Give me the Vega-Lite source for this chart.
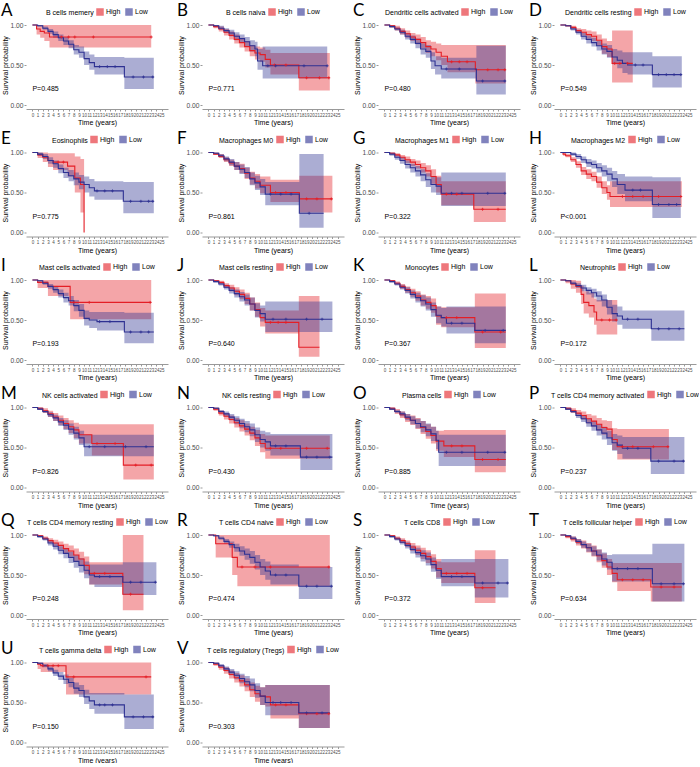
{
"$schema":"https://vega.github.io/schema/vega-lite/v6.json",
"padding":{"left":1,"top":2,"right":0,"bottom":0},
"background":"white",
"datasets":{"km":[
{"p":"A","g":"High","t":0,"s":1,"l":1,"u":1},{"p":"A","g":"High","t":0.8,"s":0.95,"l":0.88,"u":1},{"p":"A","g":"High","t":1.5,"s":0.92,"l":0.84,"u":1},{"p":"A","g":"High","t":2.3,"s":0.9,"l":0.8,"u":1},{"p":"A","g":"High","t":3.3,"s":0.85,"l":0.72,"u":1},{"p":"A","g":"High","t":23,"s":0.85,"l":0.72,"u":1},
{"p":"A","g":"Low","t":0,"s":1,"l":1,"u":1},{"p":"A","g":"Low","t":1,"s":0.99,"l":0.98,"u":1},{"p":"A","g":"Low","t":2,"s":0.96,"l":0.94,"u":0.98},{"p":"A","g":"Low","t":3,"s":0.92,"l":0.89,"u":0.95},{"p":"A","g":"Low","t":4,"s":0.88,"l":0.84,"u":0.92},{"p":"A","g":"Low","t":5,"s":0.84,"l":0.8,"u":0.88},{"p":"A","g":"Low","t":6,"s":0.8,"l":0.75,"u":0.85},{"p":"A","g":"Low","t":7,"s":0.76,"l":0.71,"u":0.81},{"p":"A","g":"Low","t":8,"s":0.69,"l":0.63,"u":0.75},{"p":"A","g":"Low","t":9,"s":0.66,"l":0.59,"u":0.73},{"p":"A","g":"Low","t":10,"s":0.58,"l":0.5,"u":0.67},{"p":"A","g":"Low","t":11,"s":0.53,"l":0.44,"u":0.63},{"p":"A","g":"Low","t":12,"s":0.48,"l":0.38,"u":0.6},{"p":"A","g":"Low","t":17.8,"s":0.35,"l":0.2,"u":0.59},{"p":"A","g":"Low","t":23.5,"s":0.35,"l":0.2,"u":0.59},
{"p":"B","g":"High","t":0,"s":1,"l":1,"u":1},{"p":"B","g":"High","t":1,"s":0.98,"l":0.96,"u":1},{"p":"B","g":"High","t":2,"s":0.95,"l":0.92,"u":0.98},{"p":"B","g":"High","t":3,"s":0.91,"l":0.87,"u":0.95},{"p":"B","g":"High","t":4,"s":0.87,"l":0.82,"u":0.92},{"p":"B","g":"High","t":5,"s":0.82,"l":0.77,"u":0.88},{"p":"B","g":"High","t":6,"s":0.78,"l":0.72,"u":0.84},{"p":"B","g":"High","t":7,"s":0.73,"l":0.67,"u":0.8},{"p":"B","g":"High","t":8,"s":0.68,"l":0.61,"u":0.75},{"p":"B","g":"High","t":9,"s":0.65,"l":0.57,"u":0.73},{"p":"B","g":"High","t":10,"s":0.63,"l":0.54,"u":0.72},{"p":"B","g":"High","t":11,"s":0.57,"l":0.47,"u":0.69},{"p":"B","g":"High","t":12,"s":0.5,"l":0.38,"u":0.65},{"p":"B","g":"High","t":17.5,"s":0.34,"l":0.18,"u":0.65},{"p":"B","g":"High","t":23.5,"s":0.34,"l":0.18,"u":0.65},
{"p":"B","g":"Low","t":0,"s":1,"l":1,"u":1},{"p":"B","g":"Low","t":1,"s":0.99,"l":0.98,"u":1},{"p":"B","g":"Low","t":2,"s":0.96,"l":0.94,"u":0.99},{"p":"B","g":"Low","t":3,"s":0.93,"l":0.9,"u":0.96},{"p":"B","g":"Low","t":4,"s":0.9,"l":0.86,"u":0.94},{"p":"B","g":"Low","t":5,"s":0.86,"l":0.81,"u":0.91},{"p":"B","g":"Low","t":6,"s":0.83,"l":0.78,"u":0.88},{"p":"B","g":"Low","t":7,"s":0.79,"l":0.73,"u":0.85},{"p":"B","g":"Low","t":8,"s":0.74,"l":0.67,"u":0.81},{"p":"B","g":"Low","t":9,"s":0.7,"l":0.61,"u":0.79},{"p":"B","g":"Low","t":9.5,"s":0.55,"l":0.44,"u":0.7},{"p":"B","g":"Low","t":10.5,"s":0.49,"l":0.33,"u":0.73},{"p":"B","g":"Low","t":23,"s":0.49,"l":0.33,"u":0.73},
{"p":"C","g":"High","t":0,"s":1,"l":1,"u":1},{"p":"C","g":"High","t":1,"s":0.99,"l":0.97,"u":1},{"p":"C","g":"High","t":2,"s":0.96,"l":0.93,"u":0.99},{"p":"C","g":"High","t":3,"s":0.92,"l":0.88,"u":0.96},{"p":"C","g":"High","t":4,"s":0.89,"l":0.84,"u":0.93},{"p":"C","g":"High","t":5,"s":0.85,"l":0.8,"u":0.9},{"p":"C","g":"High","t":6,"s":0.82,"l":0.76,"u":0.88},{"p":"C","g":"High","t":7,"s":0.78,"l":0.71,"u":0.85},{"p":"C","g":"High","t":8,"s":0.73,"l":0.65,"u":0.81},{"p":"C","g":"High","t":9,"s":0.7,"l":0.61,"u":0.79},{"p":"C","g":"High","t":10,"s":0.66,"l":0.56,"u":0.77},{"p":"C","g":"High","t":11,"s":0.61,"l":0.5,"u":0.75},{"p":"C","g":"High","t":12.2,"s":0.54,"l":0.41,"u":0.75},{"p":"C","g":"High","t":17.6,"s":0.44,"l":0.27,"u":0.75},{"p":"C","g":"High","t":23.5,"s":0.44,"l":0.27,"u":0.75},
{"p":"C","g":"Low","t":0,"s":1,"l":1,"u":1},{"p":"C","g":"Low","t":1,"s":0.98,"l":0.97,"u":1},{"p":"C","g":"Low","t":2,"s":0.95,"l":0.93,"u":0.97},{"p":"C","g":"Low","t":3,"s":0.91,"l":0.88,"u":0.94},{"p":"C","g":"Low","t":4,"s":0.86,"l":0.82,"u":0.9},{"p":"C","g":"Low","t":5,"s":0.82,"l":0.77,"u":0.87},{"p":"C","g":"Low","t":6,"s":0.77,"l":0.71,"u":0.83},{"p":"C","g":"Low","t":7,"s":0.7,"l":0.63,"u":0.77},{"p":"C","g":"Low","t":8,"s":0.67,"l":0.59,"u":0.75},{"p":"C","g":"Low","t":9,"s":0.55,"l":0.45,"u":0.66},{"p":"C","g":"Low","t":9.8,"s":0.49,"l":0.38,"u":0.61},{"p":"C","g":"Low","t":11,"s":0.45,"l":0.33,"u":0.59},{"p":"C","g":"Low","t":17.8,"s":0.3,"l":0.13,"u":0.74},{"p":"C","g":"Low","t":23.5,"s":0.3,"l":0.13,"u":0.74},
{"p":"D","g":"High","t":0,"s":1,"l":1,"u":1},{"p":"D","g":"High","t":1,"s":0.99,"l":0.98,"u":1},{"p":"D","g":"High","t":2,"s":0.97,"l":0.95,"u":0.99},{"p":"D","g":"High","t":3,"s":0.93,"l":0.9,"u":0.96},{"p":"D","g":"High","t":4,"s":0.91,"l":0.87,"u":0.95},{"p":"D","g":"High","t":5,"s":0.88,"l":0.83,"u":0.93},{"p":"D","g":"High","t":6,"s":0.86,"l":0.8,"u":0.92},{"p":"D","g":"High","t":7,"s":0.81,"l":0.74,"u":0.88},{"p":"D","g":"High","t":8,"s":0.73,"l":0.64,"u":0.83},{"p":"D","g":"High","t":9,"s":0.7,"l":0.6,"u":0.8},{"p":"D","g":"High","t":10,"s":0.52,"l":0.28,"u":0.93},{"p":"D","g":"High","t":14,"s":0.52,"l":0.28,"u":0.93},
{"p":"D","g":"Low","t":0,"s":1,"l":1,"u":1},{"p":"D","g":"Low","t":1,"s":0.99,"l":0.98,"u":1},{"p":"D","g":"Low","t":2,"s":0.95,"l":0.93,"u":0.97},{"p":"D","g":"Low","t":3,"s":0.91,"l":0.88,"u":0.94},{"p":"D","g":"Low","t":4,"s":0.86,"l":0.82,"u":0.9},{"p":"D","g":"Low","t":5,"s":0.82,"l":0.77,"u":0.87},{"p":"D","g":"Low","t":6,"s":0.78,"l":0.73,"u":0.84},{"p":"D","g":"Low","t":7,"s":0.74,"l":0.68,"u":0.8},{"p":"D","g":"Low","t":8,"s":0.7,"l":0.63,"u":0.77},{"p":"D","g":"Low","t":9,"s":0.67,"l":0.59,"u":0.75},{"p":"D","g":"Low","t":10,"s":0.6,"l":0.51,"u":0.7},{"p":"D","g":"Low","t":11,"s":0.56,"l":0.46,"u":0.68},{"p":"D","g":"Low","t":12,"s":0.52,"l":0.4,"u":0.66},{"p":"D","g":"Low","t":13,"s":0.5,"l":0.38,"u":0.66},{"p":"D","g":"Low","t":17.8,"s":0.38,"l":0.22,"u":0.61},{"p":"D","g":"Low","t":23.5,"s":0.38,"l":0.22,"u":0.61},
{"p":"E","g":"High","t":0,"s":1,"l":1,"u":1},{"p":"E","g":"High","t":1,"s":0.97,"l":0.93,"u":1},{"p":"E","g":"High","t":2,"s":0.94,"l":0.88,"u":1},{"p":"E","g":"High","t":3,"s":0.9,"l":0.82,"u":0.99},{"p":"E","g":"High","t":4,"s":0.88,"l":0.78,"u":0.99},{"p":"E","g":"High","t":6.8,"s":0.83,"l":0.7,"u":0.99},{"p":"E","g":"High","t":8.2,"s":0.68,"l":0.5,"u":0.95},{"p":"E","g":"High","t":9.3,"s":0.6,"l":0.25,"u":0.92},{"p":"E","g":"High","t":10,"s":0,"l":0,"u":0},
{"p":"E","g":"Low","t":0,"s":1,"l":1,"u":1},{"p":"E","g":"Low","t":1,"s":0.98,"l":0.96,"u":1},{"p":"E","g":"Low","t":2,"s":0.95,"l":0.92,"u":0.98},{"p":"E","g":"Low","t":3,"s":0.9,"l":0.86,"u":0.94},{"p":"E","g":"Low","t":4,"s":0.86,"l":0.81,"u":0.9},{"p":"E","g":"Low","t":5,"s":0.8,"l":0.74,"u":0.85},{"p":"E","g":"Low","t":6,"s":0.75,"l":0.68,"u":0.81},{"p":"E","g":"Low","t":7,"s":0.71,"l":0.64,"u":0.78},{"p":"E","g":"Low","t":8,"s":0.67,"l":0.59,"u":0.75},{"p":"E","g":"Low","t":9,"s":0.63,"l":0.54,"u":0.72},{"p":"E","g":"Low","t":10,"s":0.6,"l":0.5,"u":0.7},{"p":"E","g":"Low","t":11,"s":0.56,"l":0.45,"u":0.67},{"p":"E","g":"Low","t":12,"s":0.52,"l":0.41,"u":0.64},{"p":"E","g":"Low","t":17.6,"s":0.39,"l":0.24,"u":0.63},{"p":"E","g":"Low","t":23.5,"s":0.39,"l":0.24,"u":0.63},
{"p":"F","g":"High","t":0,"s":1,"l":1,"u":1},{"p":"F","g":"High","t":1,"s":0.98,"l":0.97,"u":1},{"p":"F","g":"High","t":2,"s":0.95,"l":0.93,"u":0.98},{"p":"F","g":"High","t":3,"s":0.91,"l":0.88,"u":0.94},{"p":"F","g":"High","t":4,"s":0.87,"l":0.83,"u":0.91},{"p":"F","g":"High","t":5,"s":0.83,"l":0.78,"u":0.88},{"p":"F","g":"High","t":6,"s":0.8,"l":0.74,"u":0.86},{"p":"F","g":"High","t":7,"s":0.74,"l":0.67,"u":0.81},{"p":"F","g":"High","t":8,"s":0.68,"l":0.6,"u":0.76},{"p":"F","g":"High","t":9,"s":0.64,"l":0.55,"u":0.73},{"p":"F","g":"High","t":10,"s":0.59,"l":0.49,"u":0.7},{"p":"F","g":"High","t":12,"s":0.5,"l":0.38,"u":0.66},{"p":"F","g":"High","t":17.6,"s":0.42,"l":0.25,"u":0.71},{"p":"F","g":"High","t":24,"s":0.42,"l":0.25,"u":0.71},
{"p":"F","g":"Low","t":0,"s":1,"l":1,"u":1},{"p":"F","g":"Low","t":1,"s":0.99,"l":0.98,"u":1},{"p":"F","g":"Low","t":2,"s":0.96,"l":0.94,"u":0.98},{"p":"F","g":"Low","t":3,"s":0.92,"l":0.89,"u":0.95},{"p":"F","g":"Low","t":4,"s":0.88,"l":0.84,"u":0.92},{"p":"F","g":"Low","t":5,"s":0.83,"l":0.78,"u":0.88},{"p":"F","g":"Low","t":6,"s":0.79,"l":0.73,"u":0.85},{"p":"F","g":"Low","t":7,"s":0.75,"l":0.68,"u":0.82},{"p":"F","g":"Low","t":8,"s":0.67,"l":0.59,"u":0.75},{"p":"F","g":"Low","t":9,"s":0.62,"l":0.53,"u":0.71},{"p":"F","g":"Low","t":10,"s":0.57,"l":0.47,"u":0.67},{"p":"F","g":"Low","t":11,"s":0.48,"l":0.34,"u":0.63},{"p":"F","g":"Low","t":17.6,"s":0.24,"l":0.06,"u":0.98},{"p":"F","g":"Low","t":22.3,"s":0.24,"l":0.06,"u":0.98},
{"p":"G","g":"High","t":0,"s":1,"l":1,"u":1},{"p":"G","g":"High","t":1,"s":0.99,"l":0.98,"u":1},{"p":"G","g":"High","t":2,"s":0.97,"l":0.95,"u":0.99},{"p":"G","g":"High","t":3,"s":0.94,"l":0.91,"u":0.97},{"p":"G","g":"High","t":4,"s":0.91,"l":0.87,"u":0.95},{"p":"G","g":"High","t":5,"s":0.88,"l":0.83,"u":0.92},{"p":"G","g":"High","t":6,"s":0.85,"l":0.8,"u":0.9},{"p":"G","g":"High","t":7,"s":0.81,"l":0.75,"u":0.87},{"p":"G","g":"High","t":8,"s":0.77,"l":0.7,"u":0.84},{"p":"G","g":"High","t":9,"s":0.7,"l":0.61,"u":0.79},{"p":"G","g":"High","t":10,"s":0.6,"l":0.5,"u":0.71},{"p":"G","g":"High","t":11,"s":0.48,"l":0.34,"u":0.64},{"p":"G","g":"High","t":17.3,"s":0.29,"l":0.13,"u":0.64},{"p":"G","g":"High","t":23.5,"s":0.29,"l":0.13,"u":0.64},
{"p":"G","g":"Low","t":0,"s":1,"l":1,"u":1},{"p":"G","g":"Low","t":1,"s":0.98,"l":0.96,"u":1},{"p":"G","g":"Low","t":2,"s":0.94,"l":0.91,"u":0.97},{"p":"G","g":"Low","t":3,"s":0.9,"l":0.86,"u":0.94},{"p":"G","g":"Low","t":4,"s":0.85,"l":0.8,"u":0.9},{"p":"G","g":"Low","t":5,"s":0.81,"l":0.75,"u":0.86},{"p":"G","g":"Low","t":6,"s":0.77,"l":0.7,"u":0.83},{"p":"G","g":"Low","t":7,"s":0.72,"l":0.64,"u":0.79},{"p":"G","g":"Low","t":8,"s":0.66,"l":0.57,"u":0.74},{"p":"G","g":"Low","t":9,"s":0.6,"l":0.5,"u":0.7},{"p":"G","g":"Low","t":10,"s":0.58,"l":0.47,"u":0.69},{"p":"G","g":"Low","t":11,"s":0.49,"l":0.33,"u":0.75},{"p":"G","g":"Low","t":23.5,"s":0.49,"l":0.33,"u":0.75},
{"p":"H","g":"High","t":0,"s":1,"l":1,"u":1},{"p":"H","g":"High","t":0.5,"s":0.98,"l":0.96,"u":1},{"p":"H","g":"High","t":1,"s":0.96,"l":0.94,"u":0.98},{"p":"H","g":"High","t":2,"s":0.91,"l":0.88,"u":0.94},{"p":"H","g":"High","t":3,"s":0.85,"l":0.81,"u":0.89},{"p":"H","g":"High","t":4,"s":0.77,"l":0.72,"u":0.82},{"p":"H","g":"High","t":5,"s":0.73,"l":0.67,"u":0.79},{"p":"H","g":"High","t":6,"s":0.7,"l":0.64,"u":0.76},{"p":"H","g":"High","t":7,"s":0.63,"l":0.56,"u":0.7},{"p":"H","g":"High","t":8,"s":0.56,"l":0.48,"u":0.64},{"p":"H","g":"High","t":9,"s":0.5,"l":0.41,"u":0.59},{"p":"H","g":"High","t":9.6,"s":0.45,"l":0.32,"u":0.64},{"p":"H","g":"High","t":23.5,"s":0.45,"l":0.32,"u":0.64},
{"p":"H","g":"Low","t":0,"s":1,"l":1,"u":1},{"p":"H","g":"Low","t":1,"s":1,"l":0.99,"u":1},{"p":"H","g":"Low","t":2,"s":0.98,"l":0.96,"u":1},{"p":"H","g":"Low","t":3,"s":0.95,"l":0.92,"u":0.98},{"p":"H","g":"Low","t":4,"s":0.91,"l":0.87,"u":0.95},{"p":"H","g":"Low","t":5,"s":0.87,"l":0.82,"u":0.92},{"p":"H","g":"Low","t":6,"s":0.85,"l":0.8,"u":0.9},{"p":"H","g":"Low","t":7,"s":0.81,"l":0.75,"u":0.87},{"p":"H","g":"Low","t":8,"s":0.77,"l":0.7,"u":0.84},{"p":"H","g":"Low","t":9,"s":0.73,"l":0.64,"u":0.81},{"p":"H","g":"Low","t":10,"s":0.67,"l":0.57,"u":0.77},{"p":"H","g":"Low","t":11,"s":0.6,"l":0.48,"u":0.73},{"p":"H","g":"Low","t":12.5,"s":0.53,"l":0.39,"u":0.7},{"p":"H","g":"Low","t":17.8,"s":0.35,"l":0.18,"u":0.69},{"p":"H","g":"Low","t":23.3,"s":0.35,"l":0.18,"u":0.69},
{"p":"I","g":"High","t":0,"s":1,"l":1,"u":1},{"p":"I","g":"High","t":1,"s":0.97,"l":0.9,"u":1},{"p":"I","g":"High","t":3,"s":0.92,"l":0.8,"u":1},{"p":"I","g":"High","t":7.3,"s":0.72,"l":0.51,"u":1},{"p":"I","g":"High","t":23,"s":0.72,"l":0.51,"u":1},
{"p":"I","g":"Low","t":0,"s":1,"l":1,"u":1},{"p":"I","g":"Low","t":1,"s":0.99,"l":0.98,"u":1},{"p":"I","g":"Low","t":2,"s":0.96,"l":0.94,"u":0.98},{"p":"I","g":"Low","t":3,"s":0.92,"l":0.89,"u":0.95},{"p":"I","g":"Low","t":4,"s":0.88,"l":0.84,"u":0.92},{"p":"I","g":"Low","t":5,"s":0.83,"l":0.78,"u":0.88},{"p":"I","g":"Low","t":6,"s":0.78,"l":0.72,"u":0.84},{"p":"I","g":"Low","t":7,"s":0.74,"l":0.68,"u":0.8},{"p":"I","g":"Low","t":8,"s":0.68,"l":0.61,"u":0.75},{"p":"I","g":"Low","t":9,"s":0.62,"l":0.54,"u":0.7},{"p":"I","g":"Low","t":10,"s":0.52,"l":0.43,"u":0.62},{"p":"I","g":"Low","t":11,"s":0.5,"l":0.4,"u":0.6},{"p":"I","g":"Low","t":12.5,"s":0.48,"l":0.37,"u":0.6},{"p":"I","g":"Low","t":17.8,"s":0.35,"l":0.21,"u":0.59},{"p":"I","g":"Low","t":23.5,"s":0.35,"l":0.21,"u":0.59},
{"p":"J","g":"High","t":0,"s":1,"l":1,"u":1},{"p":"J","g":"High","t":1,"s":0.99,"l":0.98,"u":1},{"p":"J","g":"High","t":2,"s":0.97,"l":0.95,"u":0.99},{"p":"J","g":"High","t":3,"s":0.93,"l":0.9,"u":0.96},{"p":"J","g":"High","t":4,"s":0.9,"l":0.86,"u":0.94},{"p":"J","g":"High","t":5,"s":0.86,"l":0.81,"u":0.91},{"p":"J","g":"High","t":6,"s":0.82,"l":0.76,"u":0.88},{"p":"J","g":"High","t":7,"s":0.77,"l":0.7,"u":0.84},{"p":"J","g":"High","t":8,"s":0.7,"l":0.62,"u":0.78},{"p":"J","g":"High","t":9,"s":0.63,"l":0.54,"u":0.72},{"p":"J","g":"High","t":10,"s":0.53,"l":0.42,"u":0.65},{"p":"J","g":"High","t":11,"s":0.47,"l":0.33,"u":0.62},{"p":"J","g":"High","t":17.5,"s":0.16,"l":0.04,"u":0.8},{"p":"J","g":"High","t":21.5,"s":0.16,"l":0.04,"u":0.8},
{"p":"J","g":"Low","t":0,"s":1,"l":1,"u":1},{"p":"J","g":"Low","t":1,"s":0.98,"l":0.97,"u":1},{"p":"J","g":"Low","t":2,"s":0.95,"l":0.93,"u":0.97},{"p":"J","g":"Low","t":3,"s":0.91,"l":0.88,"u":0.94},{"p":"J","g":"Low","t":4,"s":0.87,"l":0.83,"u":0.91},{"p":"J","g":"Low","t":5,"s":0.83,"l":0.78,"u":0.88},{"p":"J","g":"Low","t":6,"s":0.79,"l":0.73,"u":0.85},{"p":"J","g":"Low","t":7,"s":0.75,"l":0.68,"u":0.82},{"p":"J","g":"Low","t":8,"s":0.7,"l":0.62,"u":0.78},{"p":"J","g":"Low","t":9,"s":0.62,"l":0.53,"u":0.71},{"p":"J","g":"Low","t":10,"s":0.58,"l":0.48,"u":0.68},{"p":"J","g":"Low","t":11,"s":0.51,"l":0.35,"u":0.73},{"p":"J","g":"Low","t":24,"s":0.51,"l":0.35,"u":0.73},
{"p":"K","g":"High","t":0,"s":1,"l":1,"u":1},{"p":"K","g":"High","t":1,"s":0.99,"l":0.98,"u":1},{"p":"K","g":"High","t":2,"s":0.96,"l":0.94,"u":0.98},{"p":"K","g":"High","t":3,"s":0.92,"l":0.89,"u":0.95},{"p":"K","g":"High","t":4,"s":0.88,"l":0.84,"u":0.92},{"p":"K","g":"High","t":5,"s":0.84,"l":0.79,"u":0.89},{"p":"K","g":"High","t":6,"s":0.8,"l":0.74,"u":0.86},{"p":"K","g":"High","t":7,"s":0.75,"l":0.68,"u":0.82},{"p":"K","g":"High","t":8,"s":0.72,"l":0.64,"u":0.8},{"p":"K","g":"High","t":9,"s":0.68,"l":0.59,"u":0.77},{"p":"K","g":"High","t":10,"s":0.55,"l":0.44,"u":0.67},{"p":"K","g":"High","t":11,"s":0.53,"l":0.41,"u":0.66},{"p":"K","g":"High","t":17.5,"s":0.35,"l":0.15,"u":0.83},{"p":"K","g":"High","t":23.5,"s":0.35,"l":0.15,"u":0.83},
{"p":"K","g":"Low","t":0,"s":1,"l":1,"u":1},{"p":"K","g":"Low","t":1,"s":0.98,"l":0.97,"u":1},{"p":"K","g":"Low","t":2,"s":0.95,"l":0.93,"u":0.97},{"p":"K","g":"Low","t":3,"s":0.91,"l":0.88,"u":0.94},{"p":"K","g":"Low","t":4,"s":0.87,"l":0.83,"u":0.91},{"p":"K","g":"Low","t":5,"s":0.82,"l":0.77,"u":0.87},{"p":"K","g":"Low","t":6,"s":0.78,"l":0.72,"u":0.84},{"p":"K","g":"Low","t":7,"s":0.74,"l":0.67,"u":0.81},{"p":"K","g":"Low","t":8,"s":0.7,"l":0.62,"u":0.78},{"p":"K","g":"Low","t":9,"s":0.63,"l":0.54,"u":0.72},{"p":"K","g":"Low","t":10,"s":0.56,"l":0.46,"u":0.67},{"p":"K","g":"Low","t":11,"s":0.53,"l":0.42,"u":0.65},{"p":"K","g":"Low","t":12,"s":0.46,"l":0.33,"u":0.67},{"p":"K","g":"Low","t":17.5,"s":0.37,"l":0.21,"u":0.67},{"p":"K","g":"Low","t":23.5,"s":0.37,"l":0.21,"u":0.67},
{"p":"L","g":"High","t":0,"s":1,"l":1,"u":1},{"p":"L","g":"High","t":1,"s":0.99,"l":0.96,"u":1},{"p":"L","g":"High","t":2,"s":0.95,"l":0.89,"u":1},{"p":"L","g":"High","t":3,"s":0.92,"l":0.84,"u":0.99},{"p":"L","g":"High","t":4,"s":0.82,"l":0.7,"u":0.93},{"p":"L","g":"High","t":4.5,"s":0.72,"l":0.58,"u":0.86},{"p":"L","g":"High","t":5.5,"s":0.68,"l":0.53,"u":0.84},{"p":"L","g":"High","t":6.5,"s":0.6,"l":0.44,"u":0.77},{"p":"L","g":"High","t":7,"s":0.5,"l":0.32,"u":0.75},{"p":"L","g":"High","t":11,"s":0.5,"l":0.32,"u":0.75},
{"p":"L","g":"Low","t":0,"s":1,"l":1,"u":1},{"p":"L","g":"Low","t":1,"s":0.99,"l":0.98,"u":1},{"p":"L","g":"Low","t":2,"s":0.96,"l":0.94,"u":0.98},{"p":"L","g":"Low","t":3,"s":0.93,"l":0.9,"u":0.96},{"p":"L","g":"Low","t":4,"s":0.9,"l":0.86,"u":0.94},{"p":"L","g":"Low","t":5,"s":0.87,"l":0.82,"u":0.91},{"p":"L","g":"Low","t":6,"s":0.84,"l":0.78,"u":0.89},{"p":"L","g":"Low","t":7,"s":0.8,"l":0.73,"u":0.86},{"p":"L","g":"Low","t":8,"s":0.75,"l":0.67,"u":0.82},{"p":"L","g":"Low","t":9,"s":0.66,"l":0.57,"u":0.75},{"p":"L","g":"Low","t":10,"s":0.58,"l":0.48,"u":0.69},{"p":"L","g":"Low","t":11,"s":0.55,"l":0.44,"u":0.67},{"p":"L","g":"Low","t":12,"s":0.51,"l":0.39,"u":0.62},{"p":"L","g":"Low","t":17.6,"s":0.39,"l":0.24,"u":0.62},{"p":"L","g":"Low","t":24,"s":0.39,"l":0.24,"u":0.62},
{"p":"M","g":"High","t":0,"s":1,"l":1,"u":1},{"p":"M","g":"High","t":1,"s":0.99,"l":0.97,"u":1},{"p":"M","g":"High","t":2,"s":0.96,"l":0.93,"u":0.99},{"p":"M","g":"High","t":3,"s":0.92,"l":0.88,"u":0.96},{"p":"M","g":"High","t":4,"s":0.88,"l":0.83,"u":0.93},{"p":"M","g":"High","t":5,"s":0.84,"l":0.78,"u":0.9},{"p":"M","g":"High","t":6,"s":0.8,"l":0.73,"u":0.87},{"p":"M","g":"High","t":7,"s":0.76,"l":0.68,"u":0.84},{"p":"M","g":"High","t":8,"s":0.72,"l":0.62,"u":0.81},{"p":"M","g":"High","t":9,"s":0.66,"l":0.55,"u":0.79},{"p":"M","g":"High","t":11.5,"s":0.55,"l":0.4,"u":0.79},{"p":"M","g":"High","t":17.6,"s":0.28,"l":0.1,"u":0.79},{"p":"M","g":"High","t":23.5,"s":0.28,"l":0.1,"u":0.79},
{"p":"M","g":"Low","t":0,"s":1,"l":1,"u":1},{"p":"M","g":"Low","t":1,"s":0.98,"l":0.97,"u":1},{"p":"M","g":"Low","t":2,"s":0.95,"l":0.93,"u":0.97},{"p":"M","g":"Low","t":3,"s":0.91,"l":0.88,"u":0.94},{"p":"M","g":"Low","t":4,"s":0.87,"l":0.83,"u":0.91},{"p":"M","g":"Low","t":5,"s":0.82,"l":0.77,"u":0.87},{"p":"M","g":"Low","t":6,"s":0.78,"l":0.72,"u":0.84},{"p":"M","g":"Low","t":7,"s":0.73,"l":0.66,"u":0.8},{"p":"M","g":"Low","t":8,"s":0.68,"l":0.6,"u":0.76},{"p":"M","g":"Low","t":9,"s":0.62,"l":0.53,"u":0.71},{"p":"M","g":"Low","t":10,"s":0.51,"l":0.39,"u":0.66},{"p":"M","g":"Low","t":23.5,"s":0.51,"l":0.39,"u":0.66},
{"p":"N","g":"High","t":0,"s":1,"l":1,"u":1},{"p":"N","g":"High","t":1,"s":0.98,"l":0.96,"u":1},{"p":"N","g":"High","t":2,"s":0.93,"l":0.9,"u":0.96},{"p":"N","g":"High","t":3,"s":0.89,"l":0.85,"u":0.93},{"p":"N","g":"High","t":4,"s":0.85,"l":0.8,"u":0.9},{"p":"N","g":"High","t":5,"s":0.81,"l":0.75,"u":0.87},{"p":"N","g":"High","t":6,"s":0.77,"l":0.7,"u":0.84},{"p":"N","g":"High","t":7,"s":0.73,"l":0.65,"u":0.8},{"p":"N","g":"High","t":8,"s":0.68,"l":0.59,"u":0.76},{"p":"N","g":"High","t":9,"s":0.62,"l":0.52,"u":0.72},{"p":"N","g":"High","t":10,"s":0.55,"l":0.44,"u":0.67},{"p":"N","g":"High","t":11,"s":0.49,"l":0.36,"u":0.65},{"p":"N","g":"High","t":23.5,"s":0.49,"l":0.36,"u":0.65},
{"p":"N","g":"Low","t":0,"s":1,"l":1,"u":1},{"p":"N","g":"Low","t":1,"s":0.99,"l":0.98,"u":1},{"p":"N","g":"Low","t":2,"s":0.95,"l":0.93,"u":0.97},{"p":"N","g":"Low","t":3,"s":0.92,"l":0.89,"u":0.95},{"p":"N","g":"Low","t":4,"s":0.88,"l":0.84,"u":0.92},{"p":"N","g":"Low","t":5,"s":0.84,"l":0.79,"u":0.89},{"p":"N","g":"Low","t":6,"s":0.8,"l":0.74,"u":0.86},{"p":"N","g":"Low","t":7,"s":0.76,"l":0.69,"u":0.83},{"p":"N","g":"Low","t":8,"s":0.72,"l":0.64,"u":0.8},{"p":"N","g":"Low","t":9,"s":0.66,"l":0.57,"u":0.75},{"p":"N","g":"Low","t":10,"s":0.6,"l":0.5,"u":0.71},{"p":"N","g":"Low","t":11,"s":0.57,"l":0.46,"u":0.69},{"p":"N","g":"Low","t":12,"s":0.52,"l":0.4,"u":0.67},{"p":"N","g":"Low","t":17.8,"s":0.38,"l":0.22,"u":0.67},{"p":"N","g":"Low","t":24,"s":0.38,"l":0.22,"u":0.67},
{"p":"O","g":"High","t":0,"s":1,"l":1,"u":1},{"p":"O","g":"High","t":1,"s":0.99,"l":0.97,"u":1},{"p":"O","g":"High","t":2,"s":0.95,"l":0.92,"u":0.98},{"p":"O","g":"High","t":3,"s":0.91,"l":0.87,"u":0.95},{"p":"O","g":"High","t":4,"s":0.87,"l":0.82,"u":0.92},{"p":"O","g":"High","t":5,"s":0.84,"l":0.78,"u":0.9},{"p":"O","g":"High","t":6,"s":0.8,"l":0.73,"u":0.87},{"p":"O","g":"High","t":7,"s":0.75,"l":0.67,"u":0.83},{"p":"O","g":"High","t":8,"s":0.7,"l":0.61,"u":0.79},{"p":"O","g":"High","t":9,"s":0.65,"l":0.55,"u":0.76},{"p":"O","g":"High","t":10,"s":0.58,"l":0.46,"u":0.71},{"p":"O","g":"High","t":11.5,"s":0.52,"l":0.38,"u":0.72},{"p":"O","g":"High","t":17.5,"s":0.35,"l":0.19,"u":0.72},{"p":"O","g":"High","t":23.5,"s":0.35,"l":0.19,"u":0.72},
{"p":"O","g":"Low","t":0,"s":1,"l":1,"u":1},{"p":"O","g":"Low","t":1,"s":0.98,"l":0.97,"u":1},{"p":"O","g":"Low","t":2,"s":0.95,"l":0.93,"u":0.97},{"p":"O","g":"Low","t":3,"s":0.92,"l":0.89,"u":0.95},{"p":"O","g":"Low","t":4,"s":0.88,"l":0.84,"u":0.92},{"p":"O","g":"Low","t":5,"s":0.84,"l":0.79,"u":0.89},{"p":"O","g":"Low","t":6,"s":0.8,"l":0.74,"u":0.86},{"p":"O","g":"Low","t":7,"s":0.76,"l":0.69,"u":0.83},{"p":"O","g":"Low","t":8,"s":0.72,"l":0.64,"u":0.8},{"p":"O","g":"Low","t":9,"s":0.67,"l":0.58,"u":0.76},{"p":"O","g":"Low","t":10,"s":0.59,"l":0.48,"u":0.71},{"p":"O","g":"Low","t":10.5,"s":0.44,"l":0.27,"u":0.66},{"p":"O","g":"Low","t":23.5,"s":0.44,"l":0.27,"u":0.66},
{"p":"P","g":"High","t":0,"s":1,"l":1,"u":1},{"p":"P","g":"High","t":1,"s":0.99,"l":0.97,"u":1},{"p":"P","g":"High","t":2,"s":0.96,"l":0.93,"u":0.99},{"p":"P","g":"High","t":3,"s":0.93,"l":0.89,"u":0.97},{"p":"P","g":"High","t":4,"s":0.9,"l":0.85,"u":0.95},{"p":"P","g":"High","t":5,"s":0.86,"l":0.8,"u":0.92},{"p":"P","g":"High","t":6,"s":0.83,"l":0.76,"u":0.9},{"p":"P","g":"High","t":7,"s":0.79,"l":0.71,"u":0.87},{"p":"P","g":"High","t":8,"s":0.75,"l":0.66,"u":0.84},{"p":"P","g":"High","t":9,"s":0.73,"l":0.63,"u":0.83},{"p":"P","g":"High","t":10,"s":0.6,"l":0.47,"u":0.74},{"p":"P","g":"High","t":11,"s":0.51,"l":0.35,"u":0.73},{"p":"P","g":"High","t":21,"s":0.51,"l":0.35,"u":0.73},
{"p":"P","g":"Low","t":0,"s":1,"l":1,"u":1},{"p":"P","g":"Low","t":1,"s":0.98,"l":0.97,"u":1},{"p":"P","g":"Low","t":2,"s":0.95,"l":0.93,"u":0.97},{"p":"P","g":"Low","t":3,"s":0.9,"l":0.87,"u":0.93},{"p":"P","g":"Low","t":4,"s":0.86,"l":0.82,"u":0.9},{"p":"P","g":"Low","t":5,"s":0.81,"l":0.76,"u":0.86},{"p":"P","g":"Low","t":6,"s":0.77,"l":0.71,"u":0.83},{"p":"P","g":"Low","t":7,"s":0.72,"l":0.65,"u":0.79},{"p":"P","g":"Low","t":8,"s":0.68,"l":0.6,"u":0.76},{"p":"P","g":"Low","t":9,"s":0.62,"l":0.53,"u":0.71},{"p":"P","g":"Low","t":10,"s":0.56,"l":0.46,"u":0.67},{"p":"P","g":"Low","t":11,"s":0.53,"l":0.42,"u":0.65},{"p":"P","g":"Low","t":12,"s":0.49,"l":0.36,"u":0.63},{"p":"P","g":"Low","t":17.5,"s":0.33,"l":0.17,"u":0.63},{"p":"P","g":"Low","t":24,"s":0.33,"l":0.17,"u":0.63},
{"p":"Q","g":"High","t":0,"s":1,"l":1,"u":1},{"p":"Q","g":"High","t":1,"s":0.99,"l":0.98,"u":1},{"p":"Q","g":"High","t":2,"s":0.96,"l":0.94,"u":0.98},{"p":"Q","g":"High","t":3,"s":0.93,"l":0.9,"u":0.96},{"p":"Q","g":"High","t":4,"s":0.9,"l":0.86,"u":0.94},{"p":"Q","g":"High","t":5,"s":0.87,"l":0.82,"u":0.92},{"p":"Q","g":"High","t":6,"s":0.83,"l":0.77,"u":0.89},{"p":"Q","g":"High","t":7,"s":0.8,"l":0.73,"u":0.87},{"p":"Q","g":"High","t":8,"s":0.75,"l":0.67,"u":0.83},{"p":"Q","g":"High","t":9,"s":0.7,"l":0.61,"u":0.79},{"p":"Q","g":"High","t":10,"s":0.62,"l":0.51,"u":0.73},{"p":"Q","g":"High","t":11,"s":0.52,"l":0.38,"u":0.66},{"p":"Q","g":"High","t":17.5,"s":0.26,"l":0.06,"u":1},{"p":"Q","g":"High","t":21.5,"s":0.26,"l":0.06,"u":1},
{"p":"Q","g":"Low","t":0,"s":1,"l":1,"u":1},{"p":"Q","g":"Low","t":1,"s":0.98,"l":0.97,"u":1},{"p":"Q","g":"Low","t":2,"s":0.95,"l":0.93,"u":0.97},{"p":"Q","g":"Low","t":3,"s":0.9,"l":0.87,"u":0.93},{"p":"Q","g":"Low","t":4,"s":0.86,"l":0.82,"u":0.9},{"p":"Q","g":"Low","t":5,"s":0.81,"l":0.76,"u":0.86},{"p":"Q","g":"Low","t":6,"s":0.77,"l":0.71,"u":0.83},{"p":"Q","g":"Low","t":7,"s":0.72,"l":0.65,"u":0.79},{"p":"Q","g":"Low","t":8,"s":0.67,"l":0.59,"u":0.75},{"p":"Q","g":"Low","t":9,"s":0.62,"l":0.53,"u":0.71},{"p":"Q","g":"Low","t":10,"s":0.56,"l":0.46,"u":0.67},{"p":"Q","g":"Low","t":11,"s":0.5,"l":0.38,"u":0.63},{"p":"Q","g":"Low","t":12,"s":0.48,"l":0.35,"u":0.63},{"p":"Q","g":"Low","t":17.5,"s":0.41,"l":0.25,"u":0.66},{"p":"Q","g":"Low","t":24,"s":0.41,"l":0.25,"u":0.66},
{"p":"R","g":"High","t":0,"s":1,"l":1,"u":1},{"p":"R","g":"High","t":1.4,"s":0.89,"l":0.72,"u":1},{"p":"R","g":"High","t":4.6,"s":0.72,"l":0.5,"u":1},{"p":"R","g":"High","t":5.6,"s":0.6,"l":0.36,"u":1},{"p":"R","g":"High","t":23.5,"s":0.6,"l":0.36,"u":1},
{"p":"R","g":"Low","t":0,"s":1,"l":1,"u":1},{"p":"R","g":"Low","t":1,"s":0.99,"l":0.98,"u":1},{"p":"R","g":"Low","t":2,"s":0.96,"l":0.94,"u":0.98},{"p":"R","g":"Low","t":3,"s":0.92,"l":0.89,"u":0.95},{"p":"R","g":"Low","t":4,"s":0.88,"l":0.84,"u":0.92},{"p":"R","g":"Low","t":5,"s":0.84,"l":0.79,"u":0.89},{"p":"R","g":"Low","t":6,"s":0.8,"l":0.74,"u":0.86},{"p":"R","g":"Low","t":7,"s":0.76,"l":0.69,"u":0.83},{"p":"R","g":"Low","t":8,"s":0.72,"l":0.64,"u":0.8},{"p":"R","g":"Low","t":9,"s":0.66,"l":0.57,"u":0.75},{"p":"R","g":"Low","t":10,"s":0.6,"l":0.5,"u":0.7},{"p":"R","g":"Low","t":11,"s":0.55,"l":0.44,"u":0.67},{"p":"R","g":"Low","t":12,"s":0.5,"l":0.38,"u":0.63},{"p":"R","g":"Low","t":17.5,"s":0.36,"l":0.2,"u":0.6},{"p":"R","g":"Low","t":24,"s":0.36,"l":0.2,"u":0.6},
{"p":"S","g":"High","t":0,"s":1,"l":1,"u":1},{"p":"S","g":"High","t":1,"s":0.99,"l":0.98,"u":1},{"p":"S","g":"High","t":2,"s":0.96,"l":0.94,"u":0.98},{"p":"S","g":"High","t":3,"s":0.93,"l":0.9,"u":0.96},{"p":"S","g":"High","t":4,"s":0.89,"l":0.85,"u":0.93},{"p":"S","g":"High","t":5,"s":0.85,"l":0.8,"u":0.9},{"p":"S","g":"High","t":6,"s":0.81,"l":0.75,"u":0.87},{"p":"S","g":"High","t":7,"s":0.77,"l":0.7,"u":0.84},{"p":"S","g":"High","t":8,"s":0.73,"l":0.65,"u":0.81},{"p":"S","g":"High","t":9,"s":0.67,"l":0.58,"u":0.76},{"p":"S","g":"High","t":10,"s":0.58,"l":0.47,"u":0.7},{"p":"S","g":"High","t":11,"s":0.52,"l":0.4,"u":0.66},{"p":"S","g":"High","t":17.5,"s":0.34,"l":0.15,"u":0.81},{"p":"S","g":"High","t":21.5,"s":0.34,"l":0.15,"u":0.81},
{"p":"S","g":"Low","t":0,"s":1,"l":1,"u":1},{"p":"S","g":"Low","t":1,"s":0.98,"l":0.97,"u":1},{"p":"S","g":"Low","t":2,"s":0.95,"l":0.93,"u":0.97},{"p":"S","g":"Low","t":3,"s":0.91,"l":0.88,"u":0.94},{"p":"S","g":"Low","t":4,"s":0.87,"l":0.83,"u":0.91},{"p":"S","g":"Low","t":5,"s":0.82,"l":0.77,"u":0.87},{"p":"S","g":"Low","t":6,"s":0.78,"l":0.72,"u":0.84},{"p":"S","g":"Low","t":7,"s":0.74,"l":0.67,"u":0.81},{"p":"S","g":"Low","t":8,"s":0.7,"l":0.62,"u":0.78},{"p":"S","g":"Low","t":9,"s":0.63,"l":0.54,"u":0.72},{"p":"S","g":"Low","t":10,"s":0.56,"l":0.45,"u":0.67},{"p":"S","g":"Low","t":11,"s":0.48,"l":0.36,"u":0.7},{"p":"S","g":"Low","t":17.5,"s":0.4,"l":0.22,"u":0.7},{"p":"S","g":"Low","t":24,"s":0.4,"l":0.22,"u":0.7},
{"p":"T","g":"High","t":0,"s":1,"l":1,"u":1},{"p":"T","g":"High","t":1,"s":0.98,"l":0.96,"u":1},{"p":"T","g":"High","t":2,"s":0.95,"l":0.92,"u":0.98},{"p":"T","g":"High","t":3,"s":0.91,"l":0.87,"u":0.95},{"p":"T","g":"High","t":4,"s":0.88,"l":0.83,"u":0.93},{"p":"T","g":"High","t":5,"s":0.84,"l":0.78,"u":0.9},{"p":"T","g":"High","t":6,"s":0.8,"l":0.73,"u":0.87},{"p":"T","g":"High","t":7,"s":0.74,"l":0.66,"u":0.82},{"p":"T","g":"High","t":8,"s":0.68,"l":0.59,"u":0.77},{"p":"T","g":"High","t":9,"s":0.6,"l":0.5,"u":0.7},{"p":"T","g":"High","t":10,"s":0.52,"l":0.41,"u":0.65},{"p":"T","g":"High","t":11,"s":0.44,"l":0.3,"u":0.65},{"p":"T","g":"High","t":17.5,"s":0.35,"l":0.17,"u":0.65},{"p":"T","g":"High","t":23.5,"s":0.35,"l":0.17,"u":0.65},
{"p":"T","g":"Low","t":0,"s":1,"l":1,"u":1},{"p":"T","g":"Low","t":1,"s":0.99,"l":0.98,"u":1},{"p":"T","g":"Low","t":2,"s":0.96,"l":0.94,"u":0.98},{"p":"T","g":"Low","t":3,"s":0.92,"l":0.89,"u":0.95},{"p":"T","g":"Low","t":4,"s":0.88,"l":0.84,"u":0.92},{"p":"T","g":"Low","t":5,"s":0.84,"l":0.79,"u":0.89},{"p":"T","g":"Low","t":6,"s":0.8,"l":0.74,"u":0.86},{"p":"T","g":"Low","t":7,"s":0.75,"l":0.68,"u":0.82},{"p":"T","g":"Low","t":8,"s":0.7,"l":0.62,"u":0.78},{"p":"T","g":"Low","t":9,"s":0.66,"l":0.57,"u":0.75},{"p":"T","g":"Low","t":10,"s":0.58,"l":0.42,"u":0.76},{"p":"T","g":"Low","t":17.8,"s":0.39,"l":0.17,"u":0.89},{"p":"T","g":"Low","t":24,"s":0.39,"l":0.17,"u":0.89},
{"p":"U","g":"High","t":0,"s":1,"l":1,"u":1},{"p":"U","g":"High","t":1,"s":0.98,"l":0.92,"u":1},{"p":"U","g":"High","t":1.6,"s":0.96,"l":0.88,"u":1},{"p":"U","g":"High","t":6.5,"s":0.82,"l":0.6,"u":1},{"p":"U","g":"High","t":23,"s":0.82,"l":0.6,"u":1},
{"p":"U","g":"Low","t":0,"s":1,"l":1,"u":1},{"p":"U","g":"Low","t":1,"s":0.99,"l":0.98,"u":1},{"p":"U","g":"Low","t":2,"s":0.96,"l":0.94,"u":0.98},{"p":"U","g":"Low","t":3,"s":0.92,"l":0.89,"u":0.95},{"p":"U","g":"Low","t":4,"s":0.87,"l":0.83,"u":0.91},{"p":"U","g":"Low","t":5,"s":0.83,"l":0.78,"u":0.88},{"p":"U","g":"Low","t":6,"s":0.79,"l":0.73,"u":0.85},{"p":"U","g":"Low","t":7,"s":0.75,"l":0.69,"u":0.81},{"p":"U","g":"Low","t":8,"s":0.68,"l":0.61,"u":0.75},{"p":"U","g":"Low","t":9,"s":0.65,"l":0.57,"u":0.72},{"p":"U","g":"Low","t":10,"s":0.57,"l":0.48,"u":0.66},{"p":"U","g":"Low","t":11,"s":0.52,"l":0.42,"u":0.62},{"p":"U","g":"Low","t":12,"s":0.47,"l":0.36,"u":0.62},{"p":"U","g":"Low","t":17.8,"s":0.32,"l":0.17,"u":0.6},{"p":"U","g":"Low","t":23.5,"s":0.32,"l":0.17,"u":0.6},
{"p":"V","g":"High","t":0,"s":1,"l":1,"u":1},{"p":"V","g":"High","t":1,"s":0.98,"l":0.96,"u":1},{"p":"V","g":"High","t":2,"s":0.94,"l":0.91,"u":0.97},{"p":"V","g":"High","t":3,"s":0.9,"l":0.86,"u":0.94},{"p":"V","g":"High","t":4,"s":0.85,"l":0.8,"u":0.9},{"p":"V","g":"High","t":5,"s":0.81,"l":0.75,"u":0.87},{"p":"V","g":"High","t":6,"s":0.77,"l":0.7,"u":0.84},{"p":"V","g":"High","t":7,"s":0.72,"l":0.64,"u":0.8},{"p":"V","g":"High","t":8,"s":0.66,"l":0.57,"u":0.75},{"p":"V","g":"High","t":9,"s":0.61,"l":0.51,"u":0.71},{"p":"V","g":"High","t":10,"s":0.58,"l":0.47,"u":0.69},{"p":"V","g":"High","t":11,"s":0.57,"l":0.45,"u":0.72},{"p":"V","g":"High","t":12,"s":0.47,"l":0.3,"u":0.72},{"p":"V","g":"High","t":17.5,"s":0.36,"l":0.18,"u":0.72},{"p":"V","g":"High","t":23.5,"s":0.36,"l":0.18,"u":0.72},
{"p":"V","g":"Low","t":0,"s":1,"l":1,"u":1},{"p":"V","g":"Low","t":1,"s":0.99,"l":0.98,"u":1},{"p":"V","g":"Low","t":2,"s":0.96,"l":0.94,"u":0.98},{"p":"V","g":"Low","t":3,"s":0.92,"l":0.89,"u":0.95},{"p":"V","g":"Low","t":4,"s":0.88,"l":0.84,"u":0.92},{"p":"V","g":"Low","t":5,"s":0.84,"l":0.79,"u":0.89},{"p":"V","g":"Low","t":6,"s":0.8,"l":0.74,"u":0.86},{"p":"V","g":"Low","t":7,"s":0.76,"l":0.69,"u":0.83},{"p":"V","g":"Low","t":8,"s":0.72,"l":0.64,"u":0.8},{"p":"V","g":"Low","t":9,"s":0.65,"l":0.56,"u":0.74},{"p":"V","g":"Low","t":10,"s":0.58,"l":0.47,"u":0.69},{"p":"V","g":"Low","t":11,"s":0.5,"l":0.34,"u":0.72},{"p":"V","g":"Low","t":17.5,"s":0.37,"l":0.18,"u":0.72},{"p":"V","g":"Low","t":23.5,"s":0.37,"l":0.18,"u":0.72},
{"p":"A","g":"High","t":5.6,"s":0.85,"c":1},{"p":"A","g":"High","t":7,"s":0.85,"c":1},{"p":"A","g":"High","t":8.2,"s":0.85,"c":1},{"p":"A","g":"High","t":11.8,"s":0.85,"c":1},{"p":"A","g":"High","t":23,"s":0.85,"c":1},{"p":"A","g":"Low","t":13,"s":0.48,"c":1},{"p":"A","g":"Low","t":14.5,"s":0.48,"c":1},{"p":"A","g":"Low","t":16,"s":0.48,"c":1},{"p":"A","g":"Low","t":19.5,"s":0.35,"c":1},{"p":"A","g":"Low","t":21.5,"s":0.35,"c":1},{"p":"A","g":"Low","t":23.3,"s":0.35,"c":1},
{"p":"B","g":"High","t":12.8,"s":0.5,"c":1},{"p":"B","g":"High","t":15,"s":0.5,"c":1},{"p":"B","g":"High","t":19,"s":0.34,"c":1},{"p":"B","g":"High","t":21.5,"s":0.34,"c":1},{"p":"B","g":"High","t":23.3,"s":0.34,"c":1},{"p":"B","g":"Low","t":11.5,"s":0.49,"c":1},{"p":"B","g":"Low","t":13,"s":0.49,"c":1},{"p":"B","g":"Low","t":18.5,"s":0.49,"c":1},{"p":"B","g":"Low","t":23,"s":0.49,"c":1},
{"p":"C","g":"High","t":13,"s":0.54,"c":1},{"p":"C","g":"High","t":14.5,"s":0.54,"c":1},{"p":"C","g":"High","t":16,"s":0.54,"c":1},{"p":"C","g":"High","t":20,"s":0.44,"c":1},{"p":"C","g":"High","t":22,"s":0.44,"c":1},{"p":"C","g":"High","t":23.3,"s":0.44,"c":1},{"p":"C","g":"Low","t":12,"s":0.45,"c":1},{"p":"C","g":"Low","t":14.5,"s":0.45,"c":1},{"p":"C","g":"Low","t":19,"s":0.3,"c":1},{"p":"C","g":"Low","t":23.3,"s":0.3,"c":1},
{"p":"D","g":"High","t":10.5,"s":0.52,"c":1},{"p":"D","g":"High","t":11.5,"s":0.52,"c":1},{"p":"D","g":"High","t":13,"s":0.52,"c":1},{"p":"D","g":"Low","t":14.5,"s":0.5,"c":1},{"p":"D","g":"Low","t":16,"s":0.5,"c":1},{"p":"D","g":"Low","t":19,"s":0.38,"c":1},{"p":"D","g":"Low","t":20.5,"s":0.38,"c":1},{"p":"D","g":"Low","t":22,"s":0.38,"c":1},{"p":"D","g":"Low","t":23.3,"s":0.38,"c":1},
{"p":"E","g":"High","t":5,"s":0.88,"c":1},{"p":"E","g":"High","t":6,"s":0.88,"c":1},{"p":"E","g":"Low","t":12.5,"s":0.52,"c":1},{"p":"E","g":"Low","t":14,"s":0.52,"c":1},{"p":"E","g":"Low","t":15.5,"s":0.52,"c":1},{"p":"E","g":"Low","t":19,"s":0.39,"c":1},{"p":"E","g":"Low","t":21,"s":0.39,"c":1},{"p":"E","g":"Low","t":22.5,"s":0.39,"c":1},{"p":"E","g":"Low","t":23.3,"s":0.39,"c":1},
{"p":"F","g":"High","t":13,"s":0.5,"c":1},{"p":"F","g":"High","t":15,"s":0.5,"c":1},{"p":"F","g":"High","t":19,"s":0.42,"c":1},{"p":"F","g":"High","t":21,"s":0.42,"c":1},{"p":"F","g":"High","t":23.8,"s":0.42,"c":1},{"p":"F","g":"Low","t":12,"s":0.48,"c":1},{"p":"F","g":"Low","t":14,"s":0.48,"c":1},{"p":"F","g":"Low","t":16,"s":0.48,"c":1},{"p":"F","g":"Low","t":19.5,"s":0.24,"c":1},
{"p":"G","g":"High","t":12,"s":0.48,"c":1},{"p":"G","g":"High","t":14,"s":0.48,"c":1},{"p":"G","g":"High","t":19,"s":0.29,"c":1},{"p":"G","g":"High","t":22,"s":0.29,"c":1},{"p":"G","g":"Low","t":13,"s":0.49,"c":1},{"p":"G","g":"Low","t":15,"s":0.49,"c":1},{"p":"G","g":"Low","t":20,"s":0.49,"c":1},{"p":"G","g":"Low","t":23.3,"s":0.49,"c":1},
{"p":"H","g":"High","t":12,"s":0.45,"c":1},{"p":"H","g":"High","t":14,"s":0.45,"c":1},{"p":"H","g":"High","t":16,"s":0.45,"c":1},{"p":"H","g":"High","t":19,"s":0.45,"c":1},{"p":"H","g":"High","t":23.3,"s":0.45,"c":1},{"p":"H","g":"Low","t":14,"s":0.53,"c":1},{"p":"H","g":"Low","t":15.5,"s":0.53,"c":1},{"p":"H","g":"Low","t":19,"s":0.35,"c":1},{"p":"H","g":"Low","t":21,"s":0.35,"c":1},{"p":"H","g":"Low","t":22.5,"s":0.35,"c":1},
{"p":"I","g":"High","t":8,"s":0.72,"c":1},{"p":"I","g":"High","t":11,"s":0.72,"c":1},{"p":"I","g":"High","t":22.8,"s":0.72,"c":1},{"p":"I","g":"Low","t":13,"s":0.48,"c":1},{"p":"I","g":"Low","t":15,"s":0.48,"c":1},{"p":"I","g":"Low","t":19,"s":0.35,"c":1},{"p":"I","g":"Low","t":21,"s":0.35,"c":1},{"p":"I","g":"Low","t":22.5,"s":0.35,"c":1},
{"p":"J","g":"High","t":12,"s":0.47,"c":1},{"p":"J","g":"High","t":13.5,"s":0.47,"c":1},{"p":"J","g":"High","t":15,"s":0.47,"c":1},{"p":"J","g":"Low","t":12.5,"s":0.51,"c":1},{"p":"J","g":"Low","t":15,"s":0.51,"c":1},{"p":"J","g":"Low","t":19,"s":0.51,"c":1},{"p":"J","g":"Low","t":22,"s":0.51,"c":1},
{"p":"K","g":"High","t":12,"s":0.53,"c":1},{"p":"K","g":"High","t":14,"s":0.53,"c":1},{"p":"K","g":"High","t":19,"s":0.35,"c":1},{"p":"K","g":"High","t":22.5,"s":0.35,"c":1},{"p":"K","g":"Low","t":13,"s":0.46,"c":1},{"p":"K","g":"Low","t":15,"s":0.46,"c":1},{"p":"K","g":"Low","t":19.5,"s":0.37,"c":1},{"p":"K","g":"Low","t":23,"s":0.37,"c":1},
{"p":"L","g":"High","t":8,"s":0.5,"c":1},{"p":"L","g":"High","t":9.5,"s":0.5,"c":1},{"p":"L","g":"High","t":10.8,"s":0.5,"c":1},{"p":"L","g":"Low","t":13,"s":0.51,"c":1},{"p":"L","g":"Low","t":15,"s":0.51,"c":1},{"p":"L","g":"Low","t":19,"s":0.39,"c":1},{"p":"L","g":"Low","t":21,"s":0.39,"c":1},{"p":"L","g":"Low","t":23,"s":0.39,"c":1},
{"p":"M","g":"High","t":12.5,"s":0.55,"c":1},{"p":"M","g":"High","t":16,"s":0.55,"c":1},{"p":"M","g":"High","t":20,"s":0.28,"c":1},{"p":"M","g":"High","t":23,"s":0.28,"c":1},{"p":"M","g":"Low","t":11,"s":0.51,"c":1},{"p":"M","g":"Low","t":14,"s":0.51,"c":1},{"p":"M","g":"Low","t":18,"s":0.51,"c":1},{"p":"M","g":"Low","t":22,"s":0.51,"c":1},
{"p":"N","g":"High","t":12,"s":0.49,"c":1},{"p":"N","g":"High","t":14,"s":0.49,"c":1},{"p":"N","g":"High","t":19,"s":0.49,"c":1},{"p":"N","g":"High","t":23,"s":0.49,"c":1},{"p":"N","g":"Low","t":13,"s":0.52,"c":1},{"p":"N","g":"Low","t":15,"s":0.52,"c":1},{"p":"N","g":"Low","t":19,"s":0.38,"c":1},{"p":"N","g":"Low","t":21,"s":0.38,"c":1},{"p":"N","g":"Low","t":23.5,"s":0.38,"c":1},
{"p":"O","g":"High","t":13,"s":0.52,"c":1},{"p":"O","g":"High","t":15,"s":0.52,"c":1},{"p":"O","g":"High","t":19,"s":0.35,"c":1},{"p":"O","g":"High","t":22,"s":0.35,"c":1},{"p":"O","g":"Low","t":12,"s":0.44,"c":1},{"p":"O","g":"Low","t":15,"s":0.44,"c":1},{"p":"O","g":"Low","t":20,"s":0.44,"c":1},{"p":"O","g":"Low","t":23.3,"s":0.44,"c":1},
{"p":"P","g":"High","t":12,"s":0.51,"c":1},{"p":"P","g":"High","t":14,"s":0.51,"c":1},{"p":"P","g":"High","t":18,"s":0.51,"c":1},{"p":"P","g":"High","t":20.8,"s":0.51,"c":1},{"p":"P","g":"Low","t":13,"s":0.49,"c":1},{"p":"P","g":"Low","t":15,"s":0.49,"c":1},{"p":"P","g":"Low","t":19,"s":0.33,"c":1},{"p":"P","g":"Low","t":22,"s":0.33,"c":1},{"p":"P","g":"Low","t":23.8,"s":0.33,"c":1},
{"p":"Q","g":"High","t":12,"s":0.52,"c":1},{"p":"Q","g":"High","t":14,"s":0.52,"c":1},{"p":"Q","g":"High","t":19,"s":0.26,"c":1},{"p":"Q","g":"Low","t":13,"s":0.48,"c":1},{"p":"Q","g":"Low","t":15,"s":0.48,"c":1},{"p":"Q","g":"Low","t":19,"s":0.41,"c":1},{"p":"Q","g":"Low","t":21,"s":0.41,"c":1},{"p":"Q","g":"Low","t":23.8,"s":0.41,"c":1},
{"p":"R","g":"High","t":6.5,"s":0.6,"c":1},{"p":"R","g":"High","t":9,"s":0.6,"c":1},{"p":"R","g":"High","t":12,"s":0.6,"c":1},{"p":"R","g":"High","t":23.3,"s":0.6,"c":1},{"p":"R","g":"Low","t":13,"s":0.5,"c":1},{"p":"R","g":"Low","t":15,"s":0.5,"c":1},{"p":"R","g":"Low","t":19,"s":0.36,"c":1},{"p":"R","g":"Low","t":21,"s":0.36,"c":1},{"p":"R","g":"Low","t":23.8,"s":0.36,"c":1},
{"p":"S","g":"High","t":12,"s":0.52,"c":1},{"p":"S","g":"High","t":14,"s":0.52,"c":1},{"p":"S","g":"High","t":16,"s":0.52,"c":1},{"p":"S","g":"High","t":19,"s":0.34,"c":1},{"p":"S","g":"Low","t":13,"s":0.48,"c":1},{"p":"S","g":"Low","t":15,"s":0.48,"c":1},{"p":"S","g":"Low","t":19,"s":0.4,"c":1},{"p":"S","g":"Low","t":22,"s":0.4,"c":1},{"p":"S","g":"Low","t":23.8,"s":0.4,"c":1},
{"p":"T","g":"High","t":12,"s":0.44,"c":1},{"p":"T","g":"High","t":14,"s":0.44,"c":1},{"p":"T","g":"High","t":16,"s":0.44,"c":1},{"p":"T","g":"High","t":19.5,"s":0.35,"c":1},{"p":"T","g":"High","t":22,"s":0.35,"c":1},{"p":"T","g":"Low","t":11,"s":0.58,"c":1},{"p":"T","g":"Low","t":13,"s":0.58,"c":1},{"p":"T","g":"Low","t":15,"s":0.58,"c":1},{"p":"T","g":"Low","t":19.5,"s":0.39,"c":1},{"p":"T","g":"Low","t":22,"s":0.39,"c":1},{"p":"T","g":"Low","t":23.8,"s":0.39,"c":1},
{"p":"U","g":"High","t":2,"s":0.96,"c":1},{"p":"U","g":"High","t":3,"s":0.96,"c":1},{"p":"U","g":"High","t":4,"s":0.96,"c":1},{"p":"U","g":"High","t":5,"s":0.96,"c":1},{"p":"U","g":"High","t":8,"s":0.82,"c":1},{"p":"U","g":"High","t":22,"s":0.82,"c":1},{"p":"U","g":"Low","t":13,"s":0.47,"c":1},{"p":"U","g":"Low","t":14,"s":0.47,"c":1},{"p":"U","g":"Low","t":15.5,"s":0.47,"c":1},{"p":"U","g":"Low","t":19.5,"s":0.32,"c":1},{"p":"U","g":"Low","t":21.5,"s":0.32,"c":1},{"p":"U","g":"Low","t":23.3,"s":0.32,"c":1},
{"p":"V","g":"High","t":13,"s":0.47,"c":1},{"p":"V","g":"High","t":15,"s":0.47,"c":1},{"p":"V","g":"High","t":19,"s":0.36,"c":1},{"p":"V","g":"High","t":21,"s":0.36,"c":1},{"p":"V","g":"High","t":23.3,"s":0.36,"c":1},{"p":"V","g":"Low","t":12.5,"s":0.5,"c":1},{"p":"V","g":"Low","t":14,"s":0.5,"c":1},{"p":"V","g":"Low","t":16,"s":0.5,"c":1},{"p":"V","g":"Low","t":19,"s":0.37,"c":1},{"p":"V","g":"Low","t":22,"s":0.37,"c":1}
]},
"columns":4,
"spacing":{"row":3.5,"column":9},
"resolve":{"legend":{"color":"independent"}},
"concat":[
{"title":"A","data":{"name":"km"},"transform":[{"filter":"datum.p==='A'"}],"encoding":{"x":{"field":"t","type":"quantitative","title":"Time (years)","scale":{"domain":[-1.25,26.25],"nice":false,"zero":false},"axis":{"values":[0,1,2,3,4,5,6,7,8,9,10,11,12,13,14,15,16,17,18,19,20,21,22,23,24,25]}},"color":{"field":"g","type":"nominal","scale":{"domain":["High","Low"],"range":["#E41E26","#2E3192"]},"legend":{"title":"B cells memery"}}},"layer":[{"transform":[{"filter":"!datum.c"}],"mark":{"type":"area","interpolate":"step-after","opacity":0.4},"encoding":{"y":{"field":"l","type":"quantitative","title":"Survival probability","scale":{"domain":[-0.05,1.05],"nice":false},"axis":{"values":[0,0.25,0.5,0.75,1],"format":".2f"}},"y2":{"field":"u"}}},{"transform":[{"filter":"!datum.c"}],"mark":{"type":"line","interpolate":"step-after","strokeWidth":1.1},"encoding":{"y":{"field":"s","type":"quantitative","title":"Survival probability","scale":{"domain":[-0.05,1.05],"nice":false},"axis":{"values":[0,0.25,0.5,0.75,1],"format":".2f"}}}},{"transform":[{"filter":"datum.c===1"}],"mark":{"type":"point","shape":"M-1,0H1M0,-1V1","filled":false,"size":9,"strokeWidth":0.8,"opacity":1},"encoding":{"y":{"field":"s","type":"quantitative","title":"Survival probability","scale":{"domain":[-0.05,1.05],"nice":false},"axis":{"values":[0,0.25,0.5,0.75,1],"format":".2f"}},"color":{"value":"transparent"},"stroke":{"field":"g","type":"nominal","scale":{"domain":["High","Low"],"range":["#E41E26","#2E3192"]},"legend":null}}},{"transform":[{"filter":"datum.t===0 && datum.g==='High' && !datum.c"}],"mark":{"type":"text","align":"left","baseline":"middle","fontSize":7,"text":"P=0.485"},"encoding":{"y":{"datum":0.2},"color":{"value":"#000"}}}]},
{"title":"B","data":{"name":"km"},"transform":[{"filter":"datum.p==='B'"}],"encoding":{"x":{"field":"t","type":"quantitative","title":"Time (years)","scale":{"domain":[-1.25,26.25],"nice":false,"zero":false},"axis":{"values":[0,1,2,3,4,5,6,7,8,9,10,11,12,13,14,15,16,17,18,19,20,21,22,23,24,25]}},"color":{"field":"g","type":"nominal","scale":{"domain":["High","Low"],"range":["#E41E26","#2E3192"]},"legend":{"title":"B cells naiva"}}},"layer":[{"transform":[{"filter":"!datum.c"}],"mark":{"type":"area","interpolate":"step-after","opacity":0.4},"encoding":{"y":{"field":"l","type":"quantitative","title":"Survival probability","scale":{"domain":[-0.05,1.05],"nice":false},"axis":{"values":[0,0.25,0.5,0.75,1],"format":".2f"}},"y2":{"field":"u"}}},{"transform":[{"filter":"!datum.c"}],"mark":{"type":"line","interpolate":"step-after","strokeWidth":1.1},"encoding":{"y":{"field":"s","type":"quantitative","title":"Survival probability","scale":{"domain":[-0.05,1.05],"nice":false},"axis":{"values":[0,0.25,0.5,0.75,1],"format":".2f"}}}},{"transform":[{"filter":"datum.c===1"}],"mark":{"type":"point","shape":"M-1,0H1M0,-1V1","filled":false,"size":9,"strokeWidth":0.8,"opacity":1},"encoding":{"y":{"field":"s","type":"quantitative","title":"Survival probability","scale":{"domain":[-0.05,1.05],"nice":false},"axis":{"values":[0,0.25,0.5,0.75,1],"format":".2f"}},"color":{"value":"transparent"},"stroke":{"field":"g","type":"nominal","scale":{"domain":["High","Low"],"range":["#E41E26","#2E3192"]},"legend":null}}},{"transform":[{"filter":"datum.t===0 && datum.g==='High' && !datum.c"}],"mark":{"type":"text","align":"left","baseline":"middle","fontSize":7,"text":"P=0.771"},"encoding":{"y":{"datum":0.2},"color":{"value":"#000"}}}]},
{"title":"C","data":{"name":"km"},"transform":[{"filter":"datum.p==='C'"}],"encoding":{"x":{"field":"t","type":"quantitative","title":"Time (years)","scale":{"domain":[-1.25,26.25],"nice":false,"zero":false},"axis":{"values":[0,1,2,3,4,5,6,7,8,9,10,11,12,13,14,15,16,17,18,19,20,21,22,23,24,25]}},"color":{"field":"g","type":"nominal","scale":{"domain":["High","Low"],"range":["#E41E26","#2E3192"]},"legend":{"title":"Dendritic cells activated"}}},"layer":[{"transform":[{"filter":"!datum.c"}],"mark":{"type":"area","interpolate":"step-after","opacity":0.4},"encoding":{"y":{"field":"l","type":"quantitative","title":"Survival probability","scale":{"domain":[-0.05,1.05],"nice":false},"axis":{"values":[0,0.25,0.5,0.75,1],"format":".2f"}},"y2":{"field":"u"}}},{"transform":[{"filter":"!datum.c"}],"mark":{"type":"line","interpolate":"step-after","strokeWidth":1.1},"encoding":{"y":{"field":"s","type":"quantitative","title":"Survival probability","scale":{"domain":[-0.05,1.05],"nice":false},"axis":{"values":[0,0.25,0.5,0.75,1],"format":".2f"}}}},{"transform":[{"filter":"datum.c===1"}],"mark":{"type":"point","shape":"M-1,0H1M0,-1V1","filled":false,"size":9,"strokeWidth":0.8,"opacity":1},"encoding":{"y":{"field":"s","type":"quantitative","title":"Survival probability","scale":{"domain":[-0.05,1.05],"nice":false},"axis":{"values":[0,0.25,0.5,0.75,1],"format":".2f"}},"color":{"value":"transparent"},"stroke":{"field":"g","type":"nominal","scale":{"domain":["High","Low"],"range":["#E41E26","#2E3192"]},"legend":null}}},{"transform":[{"filter":"datum.t===0 && datum.g==='High' && !datum.c"}],"mark":{"type":"text","align":"left","baseline":"middle","fontSize":7,"text":"P=0.480"},"encoding":{"y":{"datum":0.2},"color":{"value":"#000"}}}]},
{"title":"D","data":{"name":"km"},"transform":[{"filter":"datum.p==='D'"}],"encoding":{"x":{"field":"t","type":"quantitative","title":"Time (years)","scale":{"domain":[-1.25,26.25],"nice":false,"zero":false},"axis":{"values":[0,1,2,3,4,5,6,7,8,9,10,11,12,13,14,15,16,17,18,19,20,21,22,23,24,25]}},"color":{"field":"g","type":"nominal","scale":{"domain":["High","Low"],"range":["#E41E26","#2E3192"]},"legend":{"title":"Dendritic cells resting"}}},"layer":[{"transform":[{"filter":"!datum.c"}],"mark":{"type":"area","interpolate":"step-after","opacity":0.4},"encoding":{"y":{"field":"l","type":"quantitative","title":"Survival probability","scale":{"domain":[-0.05,1.05],"nice":false},"axis":{"values":[0,0.25,0.5,0.75,1],"format":".2f"}},"y2":{"field":"u"}}},{"transform":[{"filter":"!datum.c"}],"mark":{"type":"line","interpolate":"step-after","strokeWidth":1.1},"encoding":{"y":{"field":"s","type":"quantitative","title":"Survival probability","scale":{"domain":[-0.05,1.05],"nice":false},"axis":{"values":[0,0.25,0.5,0.75,1],"format":".2f"}}}},{"transform":[{"filter":"datum.c===1"}],"mark":{"type":"point","shape":"M-1,0H1M0,-1V1","filled":false,"size":9,"strokeWidth":0.8,"opacity":1},"encoding":{"y":{"field":"s","type":"quantitative","title":"Survival probability","scale":{"domain":[-0.05,1.05],"nice":false},"axis":{"values":[0,0.25,0.5,0.75,1],"format":".2f"}},"color":{"value":"transparent"},"stroke":{"field":"g","type":"nominal","scale":{"domain":["High","Low"],"range":["#E41E26","#2E3192"]},"legend":null}}},{"transform":[{"filter":"datum.t===0 && datum.g==='High' && !datum.c"}],"mark":{"type":"text","align":"left","baseline":"middle","fontSize":7,"text":"P=0.549"},"encoding":{"y":{"datum":0.2},"color":{"value":"#000"}}}]},
{"title":"E","data":{"name":"km"},"transform":[{"filter":"datum.p==='E'"}],"encoding":{"x":{"field":"t","type":"quantitative","title":"Time (years)","scale":{"domain":[-1.25,26.25],"nice":false,"zero":false},"axis":{"values":[0,1,2,3,4,5,6,7,8,9,10,11,12,13,14,15,16,17,18,19,20,21,22,23,24,25]}},"color":{"field":"g","type":"nominal","scale":{"domain":["High","Low"],"range":["#E41E26","#2E3192"]},"legend":{"title":"Eosinophils"}}},"layer":[{"transform":[{"filter":"!datum.c"}],"mark":{"type":"area","interpolate":"step-after","opacity":0.4},"encoding":{"y":{"field":"l","type":"quantitative","title":"Survival probability","scale":{"domain":[-0.05,1.05],"nice":false},"axis":{"values":[0,0.25,0.5,0.75,1],"format":".2f"}},"y2":{"field":"u"}}},{"transform":[{"filter":"!datum.c"}],"mark":{"type":"line","interpolate":"step-after","strokeWidth":1.1},"encoding":{"y":{"field":"s","type":"quantitative","title":"Survival probability","scale":{"domain":[-0.05,1.05],"nice":false},"axis":{"values":[0,0.25,0.5,0.75,1],"format":".2f"}}}},{"transform":[{"filter":"datum.c===1"}],"mark":{"type":"point","shape":"M-1,0H1M0,-1V1","filled":false,"size":9,"strokeWidth":0.8,"opacity":1},"encoding":{"y":{"field":"s","type":"quantitative","title":"Survival probability","scale":{"domain":[-0.05,1.05],"nice":false},"axis":{"values":[0,0.25,0.5,0.75,1],"format":".2f"}},"color":{"value":"transparent"},"stroke":{"field":"g","type":"nominal","scale":{"domain":["High","Low"],"range":["#E41E26","#2E3192"]},"legend":null}}},{"transform":[{"filter":"datum.t===0 && datum.g==='High' && !datum.c"}],"mark":{"type":"text","align":"left","baseline":"middle","fontSize":7,"text":"P=0.775"},"encoding":{"y":{"datum":0.2},"color":{"value":"#000"}}}]},
{"title":"F","data":{"name":"km"},"transform":[{"filter":"datum.p==='F'"}],"encoding":{"x":{"field":"t","type":"quantitative","title":"Time (years)","scale":{"domain":[-1.25,26.25],"nice":false,"zero":false},"axis":{"values":[0,1,2,3,4,5,6,7,8,9,10,11,12,13,14,15,16,17,18,19,20,21,22,23,24,25]}},"color":{"field":"g","type":"nominal","scale":{"domain":["High","Low"],"range":["#E41E26","#2E3192"]},"legend":{"title":"Macrophages M0"}}},"layer":[{"transform":[{"filter":"!datum.c"}],"mark":{"type":"area","interpolate":"step-after","opacity":0.4},"encoding":{"y":{"field":"l","type":"quantitative","title":"Survival probability","scale":{"domain":[-0.05,1.05],"nice":false},"axis":{"values":[0,0.25,0.5,0.75,1],"format":".2f"}},"y2":{"field":"u"}}},{"transform":[{"filter":"!datum.c"}],"mark":{"type":"line","interpolate":"step-after","strokeWidth":1.1},"encoding":{"y":{"field":"s","type":"quantitative","title":"Survival probability","scale":{"domain":[-0.05,1.05],"nice":false},"axis":{"values":[0,0.25,0.5,0.75,1],"format":".2f"}}}},{"transform":[{"filter":"datum.c===1"}],"mark":{"type":"point","shape":"M-1,0H1M0,-1V1","filled":false,"size":9,"strokeWidth":0.8,"opacity":1},"encoding":{"y":{"field":"s","type":"quantitative","title":"Survival probability","scale":{"domain":[-0.05,1.05],"nice":false},"axis":{"values":[0,0.25,0.5,0.75,1],"format":".2f"}},"color":{"value":"transparent"},"stroke":{"field":"g","type":"nominal","scale":{"domain":["High","Low"],"range":["#E41E26","#2E3192"]},"legend":null}}},{"transform":[{"filter":"datum.t===0 && datum.g==='High' && !datum.c"}],"mark":{"type":"text","align":"left","baseline":"middle","fontSize":7,"text":"P=0.861"},"encoding":{"y":{"datum":0.2},"color":{"value":"#000"}}}]},
{"title":"G","data":{"name":"km"},"transform":[{"filter":"datum.p==='G'"}],"encoding":{"x":{"field":"t","type":"quantitative","title":"Time (years)","scale":{"domain":[-1.25,26.25],"nice":false,"zero":false},"axis":{"values":[0,1,2,3,4,5,6,7,8,9,10,11,12,13,14,15,16,17,18,19,20,21,22,23,24,25]}},"color":{"field":"g","type":"nominal","scale":{"domain":["High","Low"],"range":["#E41E26","#2E3192"]},"legend":{"title":"Macrophages M1"}}},"layer":[{"transform":[{"filter":"!datum.c"}],"mark":{"type":"area","interpolate":"step-after","opacity":0.4},"encoding":{"y":{"field":"l","type":"quantitative","title":"Survival probability","scale":{"domain":[-0.05,1.05],"nice":false},"axis":{"values":[0,0.25,0.5,0.75,1],"format":".2f"}},"y2":{"field":"u"}}},{"transform":[{"filter":"!datum.c"}],"mark":{"type":"line","interpolate":"step-after","strokeWidth":1.1},"encoding":{"y":{"field":"s","type":"quantitative","title":"Survival probability","scale":{"domain":[-0.05,1.05],"nice":false},"axis":{"values":[0,0.25,0.5,0.75,1],"format":".2f"}}}},{"transform":[{"filter":"datum.c===1"}],"mark":{"type":"point","shape":"M-1,0H1M0,-1V1","filled":false,"size":9,"strokeWidth":0.8,"opacity":1},"encoding":{"y":{"field":"s","type":"quantitative","title":"Survival probability","scale":{"domain":[-0.05,1.05],"nice":false},"axis":{"values":[0,0.25,0.5,0.75,1],"format":".2f"}},"color":{"value":"transparent"},"stroke":{"field":"g","type":"nominal","scale":{"domain":["High","Low"],"range":["#E41E26","#2E3192"]},"legend":null}}},{"transform":[{"filter":"datum.t===0 && datum.g==='High' && !datum.c"}],"mark":{"type":"text","align":"left","baseline":"middle","fontSize":7,"text":"P=0.322"},"encoding":{"y":{"datum":0.2},"color":{"value":"#000"}}}]},
{"title":"H","data":{"name":"km"},"transform":[{"filter":"datum.p==='H'"}],"encoding":{"x":{"field":"t","type":"quantitative","title":"Time (years)","scale":{"domain":[-1.25,26.25],"nice":false,"zero":false},"axis":{"values":[0,1,2,3,4,5,6,7,8,9,10,11,12,13,14,15,16,17,18,19,20,21,22,23,24,25]}},"color":{"field":"g","type":"nominal","scale":{"domain":["High","Low"],"range":["#E41E26","#2E3192"]},"legend":{"title":"Macrophages M2"}}},"layer":[{"transform":[{"filter":"!datum.c"}],"mark":{"type":"area","interpolate":"step-after","opacity":0.4},"encoding":{"y":{"field":"l","type":"quantitative","title":"Survival probability","scale":{"domain":[-0.05,1.05],"nice":false},"axis":{"values":[0,0.25,0.5,0.75,1],"format":".2f"}},"y2":{"field":"u"}}},{"transform":[{"filter":"!datum.c"}],"mark":{"type":"line","interpolate":"step-after","strokeWidth":1.1},"encoding":{"y":{"field":"s","type":"quantitative","title":"Survival probability","scale":{"domain":[-0.05,1.05],"nice":false},"axis":{"values":[0,0.25,0.5,0.75,1],"format":".2f"}}}},{"transform":[{"filter":"datum.c===1"}],"mark":{"type":"point","shape":"M-1,0H1M0,-1V1","filled":false,"size":9,"strokeWidth":0.8,"opacity":1},"encoding":{"y":{"field":"s","type":"quantitative","title":"Survival probability","scale":{"domain":[-0.05,1.05],"nice":false},"axis":{"values":[0,0.25,0.5,0.75,1],"format":".2f"}},"color":{"value":"transparent"},"stroke":{"field":"g","type":"nominal","scale":{"domain":["High","Low"],"range":["#E41E26","#2E3192"]},"legend":null}}},{"transform":[{"filter":"datum.t===0 && datum.g==='High' && !datum.c"}],"mark":{"type":"text","align":"left","baseline":"middle","fontSize":7,"text":"P<0.001"},"encoding":{"y":{"datum":0.2},"color":{"value":"#000"}}}]},
{"title":"I","data":{"name":"km"},"transform":[{"filter":"datum.p==='I'"}],"encoding":{"x":{"field":"t","type":"quantitative","title":"Time (years)","scale":{"domain":[-1.25,26.25],"nice":false,"zero":false},"axis":{"values":[0,1,2,3,4,5,6,7,8,9,10,11,12,13,14,15,16,17,18,19,20,21,22,23,24,25]}},"color":{"field":"g","type":"nominal","scale":{"domain":["High","Low"],"range":["#E41E26","#2E3192"]},"legend":{"title":"Mast cells activated"}}},"layer":[{"transform":[{"filter":"!datum.c"}],"mark":{"type":"area","interpolate":"step-after","opacity":0.4},"encoding":{"y":{"field":"l","type":"quantitative","title":"Survival probability","scale":{"domain":[-0.05,1.05],"nice":false},"axis":{"values":[0,0.25,0.5,0.75,1],"format":".2f"}},"y2":{"field":"u"}}},{"transform":[{"filter":"!datum.c"}],"mark":{"type":"line","interpolate":"step-after","strokeWidth":1.1},"encoding":{"y":{"field":"s","type":"quantitative","title":"Survival probability","scale":{"domain":[-0.05,1.05],"nice":false},"axis":{"values":[0,0.25,0.5,0.75,1],"format":".2f"}}}},{"transform":[{"filter":"datum.c===1"}],"mark":{"type":"point","shape":"M-1,0H1M0,-1V1","filled":false,"size":9,"strokeWidth":0.8,"opacity":1},"encoding":{"y":{"field":"s","type":"quantitative","title":"Survival probability","scale":{"domain":[-0.05,1.05],"nice":false},"axis":{"values":[0,0.25,0.5,0.75,1],"format":".2f"}},"color":{"value":"transparent"},"stroke":{"field":"g","type":"nominal","scale":{"domain":["High","Low"],"range":["#E41E26","#2E3192"]},"legend":null}}},{"transform":[{"filter":"datum.t===0 && datum.g==='High' && !datum.c"}],"mark":{"type":"text","align":"left","baseline":"middle","fontSize":7,"text":"P=0.193"},"encoding":{"y":{"datum":0.2},"color":{"value":"#000"}}}]},
{"title":"J","data":{"name":"km"},"transform":[{"filter":"datum.p==='J'"}],"encoding":{"x":{"field":"t","type":"quantitative","title":"Time (years)","scale":{"domain":[-1.25,26.25],"nice":false,"zero":false},"axis":{"values":[0,1,2,3,4,5,6,7,8,9,10,11,12,13,14,15,16,17,18,19,20,21,22,23,24,25]}},"color":{"field":"g","type":"nominal","scale":{"domain":["High","Low"],"range":["#E41E26","#2E3192"]},"legend":{"title":"Mast cells resting"}}},"layer":[{"transform":[{"filter":"!datum.c"}],"mark":{"type":"area","interpolate":"step-after","opacity":0.4},"encoding":{"y":{"field":"l","type":"quantitative","title":"Survival probability","scale":{"domain":[-0.05,1.05],"nice":false},"axis":{"values":[0,0.25,0.5,0.75,1],"format":".2f"}},"y2":{"field":"u"}}},{"transform":[{"filter":"!datum.c"}],"mark":{"type":"line","interpolate":"step-after","strokeWidth":1.1},"encoding":{"y":{"field":"s","type":"quantitative","title":"Survival probability","scale":{"domain":[-0.05,1.05],"nice":false},"axis":{"values":[0,0.25,0.5,0.75,1],"format":".2f"}}}},{"transform":[{"filter":"datum.c===1"}],"mark":{"type":"point","shape":"M-1,0H1M0,-1V1","filled":false,"size":9,"strokeWidth":0.8,"opacity":1},"encoding":{"y":{"field":"s","type":"quantitative","title":"Survival probability","scale":{"domain":[-0.05,1.05],"nice":false},"axis":{"values":[0,0.25,0.5,0.75,1],"format":".2f"}},"color":{"value":"transparent"},"stroke":{"field":"g","type":"nominal","scale":{"domain":["High","Low"],"range":["#E41E26","#2E3192"]},"legend":null}}},{"transform":[{"filter":"datum.t===0 && datum.g==='High' && !datum.c"}],"mark":{"type":"text","align":"left","baseline":"middle","fontSize":7,"text":"P=0.640"},"encoding":{"y":{"datum":0.2},"color":{"value":"#000"}}}]},
{"title":"K","data":{"name":"km"},"transform":[{"filter":"datum.p==='K'"}],"encoding":{"x":{"field":"t","type":"quantitative","title":"Time (years)","scale":{"domain":[-1.25,26.25],"nice":false,"zero":false},"axis":{"values":[0,1,2,3,4,5,6,7,8,9,10,11,12,13,14,15,16,17,18,19,20,21,22,23,24,25]}},"color":{"field":"g","type":"nominal","scale":{"domain":["High","Low"],"range":["#E41E26","#2E3192"]},"legend":{"title":"Monocytes"}}},"layer":[{"transform":[{"filter":"!datum.c"}],"mark":{"type":"area","interpolate":"step-after","opacity":0.4},"encoding":{"y":{"field":"l","type":"quantitative","title":"Survival probability","scale":{"domain":[-0.05,1.05],"nice":false},"axis":{"values":[0,0.25,0.5,0.75,1],"format":".2f"}},"y2":{"field":"u"}}},{"transform":[{"filter":"!datum.c"}],"mark":{"type":"line","interpolate":"step-after","strokeWidth":1.1},"encoding":{"y":{"field":"s","type":"quantitative","title":"Survival probability","scale":{"domain":[-0.05,1.05],"nice":false},"axis":{"values":[0,0.25,0.5,0.75,1],"format":".2f"}}}},{"transform":[{"filter":"datum.c===1"}],"mark":{"type":"point","shape":"M-1,0H1M0,-1V1","filled":false,"size":9,"strokeWidth":0.8,"opacity":1},"encoding":{"y":{"field":"s","type":"quantitative","title":"Survival probability","scale":{"domain":[-0.05,1.05],"nice":false},"axis":{"values":[0,0.25,0.5,0.75,1],"format":".2f"}},"color":{"value":"transparent"},"stroke":{"field":"g","type":"nominal","scale":{"domain":["High","Low"],"range":["#E41E26","#2E3192"]},"legend":null}}},{"transform":[{"filter":"datum.t===0 && datum.g==='High' && !datum.c"}],"mark":{"type":"text","align":"left","baseline":"middle","fontSize":7,"text":"P=0.367"},"encoding":{"y":{"datum":0.2},"color":{"value":"#000"}}}]},
{"title":"L","data":{"name":"km"},"transform":[{"filter":"datum.p==='L'"}],"encoding":{"x":{"field":"t","type":"quantitative","title":"Time (years)","scale":{"domain":[-1.25,26.25],"nice":false,"zero":false},"axis":{"values":[0,1,2,3,4,5,6,7,8,9,10,11,12,13,14,15,16,17,18,19,20,21,22,23,24,25]}},"color":{"field":"g","type":"nominal","scale":{"domain":["High","Low"],"range":["#E41E26","#2E3192"]},"legend":{"title":"Neutrophils"}}},"layer":[{"transform":[{"filter":"!datum.c"}],"mark":{"type":"area","interpolate":"step-after","opacity":0.4},"encoding":{"y":{"field":"l","type":"quantitative","title":"Survival probability","scale":{"domain":[-0.05,1.05],"nice":false},"axis":{"values":[0,0.25,0.5,0.75,1],"format":".2f"}},"y2":{"field":"u"}}},{"transform":[{"filter":"!datum.c"}],"mark":{"type":"line","interpolate":"step-after","strokeWidth":1.1},"encoding":{"y":{"field":"s","type":"quantitative","title":"Survival probability","scale":{"domain":[-0.05,1.05],"nice":false},"axis":{"values":[0,0.25,0.5,0.75,1],"format":".2f"}}}},{"transform":[{"filter":"datum.c===1"}],"mark":{"type":"point","shape":"M-1,0H1M0,-1V1","filled":false,"size":9,"strokeWidth":0.8,"opacity":1},"encoding":{"y":{"field":"s","type":"quantitative","title":"Survival probability","scale":{"domain":[-0.05,1.05],"nice":false},"axis":{"values":[0,0.25,0.5,0.75,1],"format":".2f"}},"color":{"value":"transparent"},"stroke":{"field":"g","type":"nominal","scale":{"domain":["High","Low"],"range":["#E41E26","#2E3192"]},"legend":null}}},{"transform":[{"filter":"datum.t===0 && datum.g==='High' && !datum.c"}],"mark":{"type":"text","align":"left","baseline":"middle","fontSize":7,"text":"P=0.172"},"encoding":{"y":{"datum":0.2},"color":{"value":"#000"}}}]},
{"title":"M","data":{"name":"km"},"transform":[{"filter":"datum.p==='M'"}],"encoding":{"x":{"field":"t","type":"quantitative","title":"Time (years)","scale":{"domain":[-1.25,26.25],"nice":false,"zero":false},"axis":{"values":[0,1,2,3,4,5,6,7,8,9,10,11,12,13,14,15,16,17,18,19,20,21,22,23,24,25]}},"color":{"field":"g","type":"nominal","scale":{"domain":["High","Low"],"range":["#E41E26","#2E3192"]},"legend":{"title":"NK cells activated"}}},"layer":[{"transform":[{"filter":"!datum.c"}],"mark":{"type":"area","interpolate":"step-after","opacity":0.4},"encoding":{"y":{"field":"l","type":"quantitative","title":"Survival probability","scale":{"domain":[-0.05,1.05],"nice":false},"axis":{"values":[0,0.25,0.5,0.75,1],"format":".2f"}},"y2":{"field":"u"}}},{"transform":[{"filter":"!datum.c"}],"mark":{"type":"line","interpolate":"step-after","strokeWidth":1.1},"encoding":{"y":{"field":"s","type":"quantitative","title":"Survival probability","scale":{"domain":[-0.05,1.05],"nice":false},"axis":{"values":[0,0.25,0.5,0.75,1],"format":".2f"}}}},{"transform":[{"filter":"datum.c===1"}],"mark":{"type":"point","shape":"M-1,0H1M0,-1V1","filled":false,"size":9,"strokeWidth":0.8,"opacity":1},"encoding":{"y":{"field":"s","type":"quantitative","title":"Survival probability","scale":{"domain":[-0.05,1.05],"nice":false},"axis":{"values":[0,0.25,0.5,0.75,1],"format":".2f"}},"color":{"value":"transparent"},"stroke":{"field":"g","type":"nominal","scale":{"domain":["High","Low"],"range":["#E41E26","#2E3192"]},"legend":null}}},{"transform":[{"filter":"datum.t===0 && datum.g==='High' && !datum.c"}],"mark":{"type":"text","align":"left","baseline":"middle","fontSize":7,"text":"P=0.826"},"encoding":{"y":{"datum":0.2},"color":{"value":"#000"}}}]},
{"title":"N","data":{"name":"km"},"transform":[{"filter":"datum.p==='N'"}],"encoding":{"x":{"field":"t","type":"quantitative","title":"Time (years)","scale":{"domain":[-1.25,26.25],"nice":false,"zero":false},"axis":{"values":[0,1,2,3,4,5,6,7,8,9,10,11,12,13,14,15,16,17,18,19,20,21,22,23,24,25]}},"color":{"field":"g","type":"nominal","scale":{"domain":["High","Low"],"range":["#E41E26","#2E3192"]},"legend":{"title":"NK cells resting"}}},"layer":[{"transform":[{"filter":"!datum.c"}],"mark":{"type":"area","interpolate":"step-after","opacity":0.4},"encoding":{"y":{"field":"l","type":"quantitative","title":"Survival probability","scale":{"domain":[-0.05,1.05],"nice":false},"axis":{"values":[0,0.25,0.5,0.75,1],"format":".2f"}},"y2":{"field":"u"}}},{"transform":[{"filter":"!datum.c"}],"mark":{"type":"line","interpolate":"step-after","strokeWidth":1.1},"encoding":{"y":{"field":"s","type":"quantitative","title":"Survival probability","scale":{"domain":[-0.05,1.05],"nice":false},"axis":{"values":[0,0.25,0.5,0.75,1],"format":".2f"}}}},{"transform":[{"filter":"datum.c===1"}],"mark":{"type":"point","shape":"M-1,0H1M0,-1V1","filled":false,"size":9,"strokeWidth":0.8,"opacity":1},"encoding":{"y":{"field":"s","type":"quantitative","title":"Survival probability","scale":{"domain":[-0.05,1.05],"nice":false},"axis":{"values":[0,0.25,0.5,0.75,1],"format":".2f"}},"color":{"value":"transparent"},"stroke":{"field":"g","type":"nominal","scale":{"domain":["High","Low"],"range":["#E41E26","#2E3192"]},"legend":null}}},{"transform":[{"filter":"datum.t===0 && datum.g==='High' && !datum.c"}],"mark":{"type":"text","align":"left","baseline":"middle","fontSize":7,"text":"P=0.430"},"encoding":{"y":{"datum":0.2},"color":{"value":"#000"}}}]},
{"title":"O","data":{"name":"km"},"transform":[{"filter":"datum.p==='O'"}],"encoding":{"x":{"field":"t","type":"quantitative","title":"Time (years)","scale":{"domain":[-1.25,26.25],"nice":false,"zero":false},"axis":{"values":[0,1,2,3,4,5,6,7,8,9,10,11,12,13,14,15,16,17,18,19,20,21,22,23,24,25]}},"color":{"field":"g","type":"nominal","scale":{"domain":["High","Low"],"range":["#E41E26","#2E3192"]},"legend":{"title":"Plasma cells"}}},"layer":[{"transform":[{"filter":"!datum.c"}],"mark":{"type":"area","interpolate":"step-after","opacity":0.4},"encoding":{"y":{"field":"l","type":"quantitative","title":"Survival probability","scale":{"domain":[-0.05,1.05],"nice":false},"axis":{"values":[0,0.25,0.5,0.75,1],"format":".2f"}},"y2":{"field":"u"}}},{"transform":[{"filter":"!datum.c"}],"mark":{"type":"line","interpolate":"step-after","strokeWidth":1.1},"encoding":{"y":{"field":"s","type":"quantitative","title":"Survival probability","scale":{"domain":[-0.05,1.05],"nice":false},"axis":{"values":[0,0.25,0.5,0.75,1],"format":".2f"}}}},{"transform":[{"filter":"datum.c===1"}],"mark":{"type":"point","shape":"M-1,0H1M0,-1V1","filled":false,"size":9,"strokeWidth":0.8,"opacity":1},"encoding":{"y":{"field":"s","type":"quantitative","title":"Survival probability","scale":{"domain":[-0.05,1.05],"nice":false},"axis":{"values":[0,0.25,0.5,0.75,1],"format":".2f"}},"color":{"value":"transparent"},"stroke":{"field":"g","type":"nominal","scale":{"domain":["High","Low"],"range":["#E41E26","#2E3192"]},"legend":null}}},{"transform":[{"filter":"datum.t===0 && datum.g==='High' && !datum.c"}],"mark":{"type":"text","align":"left","baseline":"middle","fontSize":7,"text":"P=0.885"},"encoding":{"y":{"datum":0.2},"color":{"value":"#000"}}}]},
{"title":"P","data":{"name":"km"},"transform":[{"filter":"datum.p==='P'"}],"encoding":{"x":{"field":"t","type":"quantitative","title":"Time (years)","scale":{"domain":[-1.25,26.25],"nice":false,"zero":false},"axis":{"values":[0,1,2,3,4,5,6,7,8,9,10,11,12,13,14,15,16,17,18,19,20,21,22,23,24,25]}},"color":{"field":"g","type":"nominal","scale":{"domain":["High","Low"],"range":["#E41E26","#2E3192"]},"legend":{"title":"T cells CD4 memory activated"}}},"layer":[{"transform":[{"filter":"!datum.c"}],"mark":{"type":"area","interpolate":"step-after","opacity":0.4},"encoding":{"y":{"field":"l","type":"quantitative","title":"Survival probability","scale":{"domain":[-0.05,1.05],"nice":false},"axis":{"values":[0,0.25,0.5,0.75,1],"format":".2f"}},"y2":{"field":"u"}}},{"transform":[{"filter":"!datum.c"}],"mark":{"type":"line","interpolate":"step-after","strokeWidth":1.1},"encoding":{"y":{"field":"s","type":"quantitative","title":"Survival probability","scale":{"domain":[-0.05,1.05],"nice":false},"axis":{"values":[0,0.25,0.5,0.75,1],"format":".2f"}}}},{"transform":[{"filter":"datum.c===1"}],"mark":{"type":"point","shape":"M-1,0H1M0,-1V1","filled":false,"size":9,"strokeWidth":0.8,"opacity":1},"encoding":{"y":{"field":"s","type":"quantitative","title":"Survival probability","scale":{"domain":[-0.05,1.05],"nice":false},"axis":{"values":[0,0.25,0.5,0.75,1],"format":".2f"}},"color":{"value":"transparent"},"stroke":{"field":"g","type":"nominal","scale":{"domain":["High","Low"],"range":["#E41E26","#2E3192"]},"legend":null}}},{"transform":[{"filter":"datum.t===0 && datum.g==='High' && !datum.c"}],"mark":{"type":"text","align":"left","baseline":"middle","fontSize":7,"text":"P=0.237"},"encoding":{"y":{"datum":0.2},"color":{"value":"#000"}}}]},
{"title":"Q","data":{"name":"km"},"transform":[{"filter":"datum.p==='Q'"}],"encoding":{"x":{"field":"t","type":"quantitative","title":"Time (years)","scale":{"domain":[-1.25,26.25],"nice":false,"zero":false},"axis":{"values":[0,1,2,3,4,5,6,7,8,9,10,11,12,13,14,15,16,17,18,19,20,21,22,23,24,25]}},"color":{"field":"g","type":"nominal","scale":{"domain":["High","Low"],"range":["#E41E26","#2E3192"]},"legend":{"title":"T cells CD4 memory resting"}}},"layer":[{"transform":[{"filter":"!datum.c"}],"mark":{"type":"area","interpolate":"step-after","opacity":0.4},"encoding":{"y":{"field":"l","type":"quantitative","title":"Survival probability","scale":{"domain":[-0.05,1.05],"nice":false},"axis":{"values":[0,0.25,0.5,0.75,1],"format":".2f"}},"y2":{"field":"u"}}},{"transform":[{"filter":"!datum.c"}],"mark":{"type":"line","interpolate":"step-after","strokeWidth":1.1},"encoding":{"y":{"field":"s","type":"quantitative","title":"Survival probability","scale":{"domain":[-0.05,1.05],"nice":false},"axis":{"values":[0,0.25,0.5,0.75,1],"format":".2f"}}}},{"transform":[{"filter":"datum.c===1"}],"mark":{"type":"point","shape":"M-1,0H1M0,-1V1","filled":false,"size":9,"strokeWidth":0.8,"opacity":1},"encoding":{"y":{"field":"s","type":"quantitative","title":"Survival probability","scale":{"domain":[-0.05,1.05],"nice":false},"axis":{"values":[0,0.25,0.5,0.75,1],"format":".2f"}},"color":{"value":"transparent"},"stroke":{"field":"g","type":"nominal","scale":{"domain":["High","Low"],"range":["#E41E26","#2E3192"]},"legend":null}}},{"transform":[{"filter":"datum.t===0 && datum.g==='High' && !datum.c"}],"mark":{"type":"text","align":"left","baseline":"middle","fontSize":7,"text":"P=0.248"},"encoding":{"y":{"datum":0.2},"color":{"value":"#000"}}}]},
{"title":"R","data":{"name":"km"},"transform":[{"filter":"datum.p==='R'"}],"encoding":{"x":{"field":"t","type":"quantitative","title":"Time (years)","scale":{"domain":[-1.25,26.25],"nice":false,"zero":false},"axis":{"values":[0,1,2,3,4,5,6,7,8,9,10,11,12,13,14,15,16,17,18,19,20,21,22,23,24,25]}},"color":{"field":"g","type":"nominal","scale":{"domain":["High","Low"],"range":["#E41E26","#2E3192"]},"legend":{"title":"T cells CD4 naive"}}},"layer":[{"transform":[{"filter":"!datum.c"}],"mark":{"type":"area","interpolate":"step-after","opacity":0.4},"encoding":{"y":{"field":"l","type":"quantitative","title":"Survival probability","scale":{"domain":[-0.05,1.05],"nice":false},"axis":{"values":[0,0.25,0.5,0.75,1],"format":".2f"}},"y2":{"field":"u"}}},{"transform":[{"filter":"!datum.c"}],"mark":{"type":"line","interpolate":"step-after","strokeWidth":1.1},"encoding":{"y":{"field":"s","type":"quantitative","title":"Survival probability","scale":{"domain":[-0.05,1.05],"nice":false},"axis":{"values":[0,0.25,0.5,0.75,1],"format":".2f"}}}},{"transform":[{"filter":"datum.c===1"}],"mark":{"type":"point","shape":"M-1,0H1M0,-1V1","filled":false,"size":9,"strokeWidth":0.8,"opacity":1},"encoding":{"y":{"field":"s","type":"quantitative","title":"Survival probability","scale":{"domain":[-0.05,1.05],"nice":false},"axis":{"values":[0,0.25,0.5,0.75,1],"format":".2f"}},"color":{"value":"transparent"},"stroke":{"field":"g","type":"nominal","scale":{"domain":["High","Low"],"range":["#E41E26","#2E3192"]},"legend":null}}},{"transform":[{"filter":"datum.t===0 && datum.g==='High' && !datum.c"}],"mark":{"type":"text","align":"left","baseline":"middle","fontSize":7,"text":"P=0.474"},"encoding":{"y":{"datum":0.2},"color":{"value":"#000"}}}]},
{"title":"S","data":{"name":"km"},"transform":[{"filter":"datum.p==='S'"}],"encoding":{"x":{"field":"t","type":"quantitative","title":"Time (years)","scale":{"domain":[-1.25,26.25],"nice":false,"zero":false},"axis":{"values":[0,1,2,3,4,5,6,7,8,9,10,11,12,13,14,15,16,17,18,19,20,21,22,23,24,25]}},"color":{"field":"g","type":"nominal","scale":{"domain":["High","Low"],"range":["#E41E26","#2E3192"]},"legend":{"title":"T cells CD8"}}},"layer":[{"transform":[{"filter":"!datum.c"}],"mark":{"type":"area","interpolate":"step-after","opacity":0.4},"encoding":{"y":{"field":"l","type":"quantitative","title":"Survival probability","scale":{"domain":[-0.05,1.05],"nice":false},"axis":{"values":[0,0.25,0.5,0.75,1],"format":".2f"}},"y2":{"field":"u"}}},{"transform":[{"filter":"!datum.c"}],"mark":{"type":"line","interpolate":"step-after","strokeWidth":1.1},"encoding":{"y":{"field":"s","type":"quantitative","title":"Survival probability","scale":{"domain":[-0.05,1.05],"nice":false},"axis":{"values":[0,0.25,0.5,0.75,1],"format":".2f"}}}},{"transform":[{"filter":"datum.c===1"}],"mark":{"type":"point","shape":"M-1,0H1M0,-1V1","filled":false,"size":9,"strokeWidth":0.8,"opacity":1},"encoding":{"y":{"field":"s","type":"quantitative","title":"Survival probability","scale":{"domain":[-0.05,1.05],"nice":false},"axis":{"values":[0,0.25,0.5,0.75,1],"format":".2f"}},"color":{"value":"transparent"},"stroke":{"field":"g","type":"nominal","scale":{"domain":["High","Low"],"range":["#E41E26","#2E3192"]},"legend":null}}},{"transform":[{"filter":"datum.t===0 && datum.g==='High' && !datum.c"}],"mark":{"type":"text","align":"left","baseline":"middle","fontSize":7,"text":"P=0.372"},"encoding":{"y":{"datum":0.2},"color":{"value":"#000"}}}]},
{"title":"T","data":{"name":"km"},"transform":[{"filter":"datum.p==='T'"}],"encoding":{"x":{"field":"t","type":"quantitative","title":"Time (years)","scale":{"domain":[-1.25,26.25],"nice":false,"zero":false},"axis":{"values":[0,1,2,3,4,5,6,7,8,9,10,11,12,13,14,15,16,17,18,19,20,21,22,23,24,25]}},"color":{"field":"g","type":"nominal","scale":{"domain":["High","Low"],"range":["#E41E26","#2E3192"]},"legend":{"title":"T cells follicular helper"}}},"layer":[{"transform":[{"filter":"!datum.c"}],"mark":{"type":"area","interpolate":"step-after","opacity":0.4},"encoding":{"y":{"field":"l","type":"quantitative","title":"Survival probability","scale":{"domain":[-0.05,1.05],"nice":false},"axis":{"values":[0,0.25,0.5,0.75,1],"format":".2f"}},"y2":{"field":"u"}}},{"transform":[{"filter":"!datum.c"}],"mark":{"type":"line","interpolate":"step-after","strokeWidth":1.1},"encoding":{"y":{"field":"s","type":"quantitative","title":"Survival probability","scale":{"domain":[-0.05,1.05],"nice":false},"axis":{"values":[0,0.25,0.5,0.75,1],"format":".2f"}}}},{"transform":[{"filter":"datum.c===1"}],"mark":{"type":"point","shape":"M-1,0H1M0,-1V1","filled":false,"size":9,"strokeWidth":0.8,"opacity":1},"encoding":{"y":{"field":"s","type":"quantitative","title":"Survival probability","scale":{"domain":[-0.05,1.05],"nice":false},"axis":{"values":[0,0.25,0.5,0.75,1],"format":".2f"}},"color":{"value":"transparent"},"stroke":{"field":"g","type":"nominal","scale":{"domain":["High","Low"],"range":["#E41E26","#2E3192"]},"legend":null}}},{"transform":[{"filter":"datum.t===0 && datum.g==='High' && !datum.c"}],"mark":{"type":"text","align":"left","baseline":"middle","fontSize":7,"text":"P=0.634"},"encoding":{"y":{"datum":0.2},"color":{"value":"#000"}}}]},
{"title":"U","data":{"name":"km"},"transform":[{"filter":"datum.p==='U'"}],"encoding":{"x":{"field":"t","type":"quantitative","title":"Time (years)","scale":{"domain":[-1.25,26.25],"nice":false,"zero":false},"axis":{"values":[0,1,2,3,4,5,6,7,8,9,10,11,12,13,14,15,16,17,18,19,20,21,22,23,24,25]}},"color":{"field":"g","type":"nominal","scale":{"domain":["High","Low"],"range":["#E41E26","#2E3192"]},"legend":{"title":"T cells gamma delta"}}},"layer":[{"transform":[{"filter":"!datum.c"}],"mark":{"type":"area","interpolate":"step-after","opacity":0.4},"encoding":{"y":{"field":"l","type":"quantitative","title":"Survival probability","scale":{"domain":[-0.05,1.05],"nice":false},"axis":{"values":[0,0.25,0.5,0.75,1],"format":".2f"}},"y2":{"field":"u"}}},{"transform":[{"filter":"!datum.c"}],"mark":{"type":"line","interpolate":"step-after","strokeWidth":1.1},"encoding":{"y":{"field":"s","type":"quantitative","title":"Survival probability","scale":{"domain":[-0.05,1.05],"nice":false},"axis":{"values":[0,0.25,0.5,0.75,1],"format":".2f"}}}},{"transform":[{"filter":"datum.c===1"}],"mark":{"type":"point","shape":"M-1,0H1M0,-1V1","filled":false,"size":9,"strokeWidth":0.8,"opacity":1},"encoding":{"y":{"field":"s","type":"quantitative","title":"Survival probability","scale":{"domain":[-0.05,1.05],"nice":false},"axis":{"values":[0,0.25,0.5,0.75,1],"format":".2f"}},"color":{"value":"transparent"},"stroke":{"field":"g","type":"nominal","scale":{"domain":["High","Low"],"range":["#E41E26","#2E3192"]},"legend":null}}},{"transform":[{"filter":"datum.t===0 && datum.g==='High' && !datum.c"}],"mark":{"type":"text","align":"left","baseline":"middle","fontSize":7,"text":"P=0.150"},"encoding":{"y":{"datum":0.2},"color":{"value":"#000"}}}]},
{"title":"V","data":{"name":"km"},"transform":[{"filter":"datum.p==='V'"}],"encoding":{"x":{"field":"t","type":"quantitative","title":"Time (years)","scale":{"domain":[-1.25,26.25],"nice":false,"zero":false},"axis":{"values":[0,1,2,3,4,5,6,7,8,9,10,11,12,13,14,15,16,17,18,19,20,21,22,23,24,25]}},"color":{"field":"g","type":"nominal","scale":{"domain":["High","Low"],"range":["#E41E26","#2E3192"]},"legend":{"title":"T cells regulatory (Tregs)"}}},"layer":[{"transform":[{"filter":"!datum.c"}],"mark":{"type":"area","interpolate":"step-after","opacity":0.4},"encoding":{"y":{"field":"l","type":"quantitative","title":"Survival probability","scale":{"domain":[-0.05,1.05],"nice":false},"axis":{"values":[0,0.25,0.5,0.75,1],"format":".2f"}},"y2":{"field":"u"}}},{"transform":[{"filter":"!datum.c"}],"mark":{"type":"line","interpolate":"step-after","strokeWidth":1.1},"encoding":{"y":{"field":"s","type":"quantitative","title":"Survival probability","scale":{"domain":[-0.05,1.05],"nice":false},"axis":{"values":[0,0.25,0.5,0.75,1],"format":".2f"}}}},{"transform":[{"filter":"datum.c===1"}],"mark":{"type":"point","shape":"M-1,0H1M0,-1V1","filled":false,"size":9,"strokeWidth":0.8,"opacity":1},"encoding":{"y":{"field":"s","type":"quantitative","title":"Survival probability","scale":{"domain":[-0.05,1.05],"nice":false},"axis":{"values":[0,0.25,0.5,0.75,1],"format":".2f"}},"color":{"value":"transparent"},"stroke":{"field":"g","type":"nominal","scale":{"domain":["High","Low"],"range":["#E41E26","#2E3192"]},"legend":null}}},{"transform":[{"filter":"datum.t===0 && datum.g==='High' && !datum.c"}],"mark":{"type":"text","align":"left","baseline":"middle","fontSize":7,"text":"P=0.303"},"encoding":{"y":{"datum":0.2},"color":{"value":"#000"}}}]}
],
"config":{
"font":"Liberation Sans",
"view":{"continuousWidth":142,"continuousHeight":88,"stroke":null},
"axis":{"grid":false,"labelColor":"#4d4d4d","titleColor":"#000","titleFontWeight":400,"tickColor":"#999","domainColor":"#999","tickSize":2,"labelPadding":1,"titlePadding":2,"titleFontSize":7},
"axisX":{"labelFontSize":4.5,"labelAngle":0,"labelOverlap":false,"labelFlush":false,"titleFontWeight":400},
"axisY":{"domain":false,"labelFontSize":6.7,"minExtent":16,"maxExtent":16,"titleFontWeight":400},
"legend":{"orient":"top","direction":"horizontal","titleOrient":"left","titleFontSize":7,"titleFontWeight":400,"titleColor":"#000","labelFontSize":7,"labelColor":"#000","symbolType":"square","symbolSize":36,"symbolOpacity":0.6,"offset":3,"padding":0,"columnPadding":2,"labelOffset":2,"titlePadding":2,"layout":{"top":{"anchor":"middle"}}},
"title":{"anchor":"start","frame":"bounds","fontSize":17,"fontWeight":"normal","font":"Lato","offset":-12},
"concat":{"spacing":9}
}
}
